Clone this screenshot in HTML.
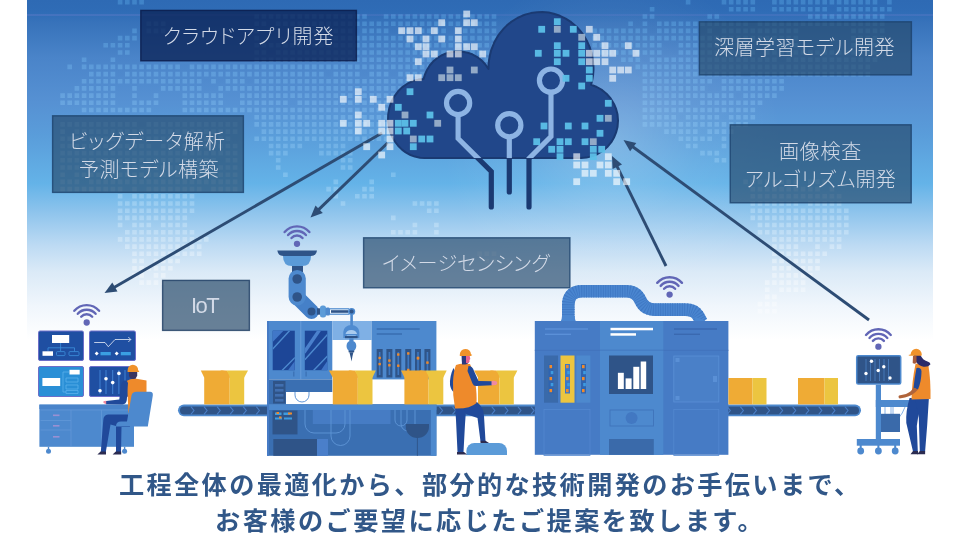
<!DOCTYPE html>
<html lang="ja">
<head>
<meta charset="utf-8">
<title>スマートファクトリー ソリューション</title>
<style>
html,body{margin:0;padding:0;background:#fff;}
#stage{position:relative;width:960px;height:540px;overflow:hidden;background:#fff;font-family:"Liberation Sans","Noto Sans CJK JP",sans-serif;}
.lb{position:absolute;will-change:transform;color:#d3dae7;line-height:28px;font-weight:300;white-space:nowrap;}
.cap{position:absolute;will-change:transform;color:#315788;font-weight:700;font-size:25.2px;line-height:32px;letter-spacing:2.35px;white-space:nowrap;}
</style>
</head>
<body>
<div id="stage">
<svg width="960" height="540" viewBox="0 0 960 540" style="position:absolute;left:0;top:0">
<defs>
<linearGradient id="bg" x1="0" y1="0" x2="0" y2="1" gradientUnits="objectBoundingBox">
<stop offset="0" stop-color="#2e6ab4"/>
<stop offset="0.035" stop-color="#2f6cb6"/>
<stop offset="0.065" stop-color="#3772ba"/>
<stop offset="0.17" stop-color="#4a84c9"/>
<stop offset="0.30" stop-color="#5691d3"/>
<stop offset="0.40" stop-color="#5a9dda"/>
<stop offset="0.54" stop-color="#64b3e8"/>
<stop offset="0.62" stop-color="#8cc3ec"/>
<stop offset="0.72" stop-color="#bcdaf3"/>
<stop offset="0.80" stop-color="#dbeaf7"/>
<stop offset="0.90" stop-color="#f0f6fc"/>
<stop offset="1" stop-color="#ffffff"/>
</linearGradient>
<clipPath id="cloudclip"><path d="M593.4,65.3 L592.7,58.4 L591.6,53.1 L589.5,46.6 L586.7,40.4 L583.2,34.6 L579.9,30.4 L576.3,26.5 L571.2,22.2 L565.7,18.6 L559.9,15.8 L553.8,13.7 L548.7,12.6 L542.3,12.0 L537.1,12.2 L530.8,13.1 L525.8,14.4 L522.1,15.8 L517.4,18.0 L510.8,22.2 L506.7,25.6 L503.9,28.4 L498.8,34.6 L496.0,39.2 L494.1,42.8 L491.1,50.4 L490.1,54.4 L489.1,59.8 L488.6,63.9 L488.5,69.0 L485.2,64.2 L481.6,60.4 L476.8,56.8 L472.3,54.3 L466.6,52.4 L461.5,51.5 L455.4,51.4 L450.3,52.2 L446.1,53.4 L441.4,55.5 L437.0,58.2 L433.1,61.6 L429.7,65.5 L427.0,69.9 L424.9,74.6 L423.6,79.0 L418.3,79.6 L412.2,81.3 L407.3,83.7 L402.0,87.4 L398.1,91.3 L394.2,96.6 L391.1,102.5 L389.3,108.0 L388.2,114.6 L388.0,120.4 L388.7,126.2 L390.1,131.8 L392.3,137.1 L395.2,142.0 L398.1,145.7 L402.0,149.6 L405.7,152.4 L410.5,155.0 L414.8,156.6 L420.0,157.7 L424.5,158.0 L581.0,158.0 L586.4,157.6 L592.6,156.1 L597.6,154.0 L603.0,150.7 L607.8,146.4 L611.3,142.2 L614.0,137.5 L616.1,132.4 L617.5,127.1 L618.0,120.7 L617.5,114.3 L616.1,109.0 L614.0,103.9 L610.7,98.5 L606.5,93.7 L602.3,90.2 L596.8,87.0 L591.1,84.8 L592.2,80.3 L593.1,74.9 L593.5,69.4 L593.4,65.3Z"/></clipPath>
</defs>

<rect x="0" y="0" width="960" height="540" fill="#fff"/>
<rect x="27" y="0" width="906" height="340" fill="url(#bg)"/>
<linearGradient id="dg" x1="0" y1="0" x2="0" y2="330" gradientUnits="userSpaceOnUse"><stop offset="0" stop-color="#6ec6ff" stop-opacity="0.27"/><stop offset="0.45" stop-color="#a8dcff" stop-opacity="0.28"/><stop offset="0.8" stop-color="#ffffff" stop-opacity="0.36"/><stop offset="1" stop-color="#ffffff" stop-opacity="0.3"/></linearGradient><radialGradient id="glow" cx="612" cy="140" r="170" gradientUnits="userSpaceOnUse"><stop offset="0" stop-color="#fff" stop-opacity="0.22"/><stop offset="0.5" stop-color="#fff" stop-opacity="0.07"/><stop offset="1" stop-color="#fff" stop-opacity="0"/></radialGradient><linearGradient id="streak" x1="27" y1="0" x2="933" y2="0" gradientUnits="userSpaceOnUse"><stop offset="0" stop-color="#8a86d8" stop-opacity="0.22"/><stop offset="0.5" stop-color="#8a86d8" stop-opacity="0.12"/><stop offset="1" stop-color="#8a86d8" stop-opacity="0.18"/></linearGradient><rect x="27" y="0" width="906" height="340" fill="url(#glow)"/><rect x="27" y="14" width="906" height="2" fill="url(#streak)"/><path d="M60.3,93.3h4.6v4.6h-4.6zM60.3,100.5h4.6v4.6h-4.6zM60.3,122.1h4.6v4.6h-4.6zM60.3,129.3h4.6v4.6h-4.6zM60.3,136.5h4.6v4.6h-4.6zM60.3,143.7h4.6v4.6h-4.6zM60.3,150.8h4.6v4.6h-4.6zM60.3,158.0h4.6v4.6h-4.6zM60.3,165.2h4.6v4.6h-4.6zM60.3,172.4h4.6v4.6h-4.6zM60.3,179.6h4.6v4.6h-4.6zM60.3,186.8h4.6v4.6h-4.6zM67.4,64.6h4.6v4.6h-4.6zM67.4,93.3h4.6v4.6h-4.6zM67.4,100.5h4.6v4.6h-4.6zM67.4,122.1h4.6v4.6h-4.6zM67.4,136.5h4.6v4.6h-4.6zM67.4,143.7h4.6v4.6h-4.6zM67.4,150.8h4.6v4.6h-4.6zM67.4,158.0h4.6v4.6h-4.6zM67.4,165.2h4.6v4.6h-4.6zM67.4,179.6h4.6v4.6h-4.6zM67.4,186.8h4.6v4.6h-4.6zM74.6,86.1h4.6v4.6h-4.6zM74.6,93.3h4.6v4.6h-4.6zM74.6,100.5h4.6v4.6h-4.6zM74.6,122.1h4.6v4.6h-4.6zM74.6,129.3h4.6v4.6h-4.6zM74.6,136.5h4.6v4.6h-4.6zM74.6,143.7h4.6v4.6h-4.6zM74.6,150.8h4.6v4.6h-4.6zM74.6,158.0h4.6v4.6h-4.6zM74.6,165.2h4.6v4.6h-4.6zM74.6,172.4h4.6v4.6h-4.6zM74.6,179.6h4.6v4.6h-4.6zM74.6,186.8h4.6v4.6h-4.6zM81.8,57.4h4.6v4.6h-4.6zM81.8,64.6h4.6v4.6h-4.6zM81.8,78.9h4.6v4.6h-4.6zM81.8,86.1h4.6v4.6h-4.6zM81.8,93.3h4.6v4.6h-4.6zM81.8,100.5h4.6v4.6h-4.6zM81.8,107.7h4.6v4.6h-4.6zM81.8,122.1h4.6v4.6h-4.6zM81.8,129.3h4.6v4.6h-4.6zM81.8,136.5h4.6v4.6h-4.6zM81.8,143.7h4.6v4.6h-4.6zM81.8,150.8h4.6v4.6h-4.6zM81.8,158.0h4.6v4.6h-4.6zM81.8,165.2h4.6v4.6h-4.6zM81.8,172.4h4.6v4.6h-4.6zM81.8,186.8h4.6v4.6h-4.6zM89.0,64.6h4.6v4.6h-4.6zM89.0,71.8h4.6v4.6h-4.6zM89.0,78.9h4.6v4.6h-4.6zM89.0,86.1h4.6v4.6h-4.6zM89.0,93.3h4.6v4.6h-4.6zM89.0,100.5h4.6v4.6h-4.6zM89.0,107.7h4.6v4.6h-4.6zM89.0,122.1h4.6v4.6h-4.6zM89.0,129.3h4.6v4.6h-4.6zM89.0,136.5h4.6v4.6h-4.6zM89.0,143.7h4.6v4.6h-4.6zM89.0,150.8h4.6v4.6h-4.6zM89.0,158.0h4.6v4.6h-4.6zM89.0,165.2h4.6v4.6h-4.6zM89.0,172.4h4.6v4.6h-4.6zM89.0,179.6h4.6v4.6h-4.6zM89.0,186.8h4.6v4.6h-4.6zM96.2,64.6h4.6v4.6h-4.6zM96.2,71.8h4.6v4.6h-4.6zM96.2,78.9h4.6v4.6h-4.6zM96.2,86.1h4.6v4.6h-4.6zM96.2,93.3h4.6v4.6h-4.6zM96.2,100.5h4.6v4.6h-4.6zM96.2,107.7h4.6v4.6h-4.6zM96.2,122.1h4.6v4.6h-4.6zM96.2,129.3h4.6v4.6h-4.6zM96.2,136.5h4.6v4.6h-4.6zM96.2,143.7h4.6v4.6h-4.6zM96.2,150.8h4.6v4.6h-4.6zM96.2,158.0h4.6v4.6h-4.6zM96.2,165.2h4.6v4.6h-4.6zM96.2,172.4h4.6v4.6h-4.6zM96.2,179.6h4.6v4.6h-4.6zM96.2,186.8h4.6v4.6h-4.6zM103.4,43.0h4.6v4.6h-4.6zM103.4,64.6h4.6v4.6h-4.6zM103.4,71.8h4.6v4.6h-4.6zM103.4,78.9h4.6v4.6h-4.6zM103.4,86.1h4.6v4.6h-4.6zM103.4,93.3h4.6v4.6h-4.6zM103.4,100.5h4.6v4.6h-4.6zM103.4,107.7h4.6v4.6h-4.6zM103.4,122.1h4.6v4.6h-4.6zM103.4,129.3h4.6v4.6h-4.6zM103.4,136.5h4.6v4.6h-4.6zM103.4,143.7h4.6v4.6h-4.6zM103.4,150.8h4.6v4.6h-4.6zM103.4,158.0h4.6v4.6h-4.6zM103.4,165.2h4.6v4.6h-4.6zM103.4,172.4h4.6v4.6h-4.6zM103.4,179.6h4.6v4.6h-4.6zM103.4,186.8h4.6v4.6h-4.6zM110.6,43.0h4.6v4.6h-4.6zM110.6,57.4h4.6v4.6h-4.6zM110.6,64.6h4.6v4.6h-4.6zM110.6,71.8h4.6v4.6h-4.6zM110.6,78.9h4.6v4.6h-4.6zM110.6,86.1h4.6v4.6h-4.6zM110.6,93.3h4.6v4.6h-4.6zM110.6,100.5h4.6v4.6h-4.6zM110.6,107.7h4.6v4.6h-4.6zM110.6,122.1h4.6v4.6h-4.6zM110.6,129.3h4.6v4.6h-4.6zM110.6,136.5h4.6v4.6h-4.6zM110.6,143.7h4.6v4.6h-4.6zM110.6,150.8h4.6v4.6h-4.6zM110.6,158.0h4.6v4.6h-4.6zM110.6,165.2h4.6v4.6h-4.6zM110.6,172.4h4.6v4.6h-4.6zM110.6,179.6h4.6v4.6h-4.6zM110.6,186.8h4.6v4.6h-4.6zM117.8,0.0h4.6v4.4h-4.6zM117.8,35.8h4.6v4.6h-4.6zM117.8,43.0h4.6v4.6h-4.6zM117.8,50.2h4.6v4.6h-4.6zM117.8,64.6h4.6v4.6h-4.6zM117.8,78.9h4.6v4.6h-4.6zM117.8,107.7h4.6v4.6h-4.6zM117.8,122.1h4.6v4.6h-4.6zM117.8,129.3h4.6v4.6h-4.6zM117.8,136.5h4.6v4.6h-4.6zM117.8,143.7h4.6v4.6h-4.6zM117.8,150.8h4.6v4.6h-4.6zM117.8,158.0h4.6v4.6h-4.6zM117.8,165.2h4.6v4.6h-4.6zM117.8,172.4h4.6v4.6h-4.6zM117.8,179.6h4.6v4.6h-4.6zM117.8,186.8h4.6v4.6h-4.6zM117.8,194.0h4.6v4.6h-4.6zM117.8,201.2h4.6v4.6h-4.6zM117.8,208.4h4.6v4.6h-4.6zM117.8,215.6h4.6v4.6h-4.6zM117.8,222.7h4.6v4.6h-4.6zM117.8,237.1h4.6v4.6h-4.6zM125.0,0.0h4.6v4.4h-4.6zM125.0,35.8h4.6v4.6h-4.6zM125.0,43.0h4.6v4.6h-4.6zM125.0,50.2h4.6v4.6h-4.6zM125.0,64.6h4.6v4.6h-4.6zM125.0,71.8h4.6v4.6h-4.6zM125.0,78.9h4.6v4.6h-4.6zM125.0,107.7h4.6v4.6h-4.6zM125.0,122.1h4.6v4.6h-4.6zM125.0,129.3h4.6v4.6h-4.6zM125.0,136.5h4.6v4.6h-4.6zM125.0,143.7h4.6v4.6h-4.6zM125.0,150.8h4.6v4.6h-4.6zM125.0,158.0h4.6v4.6h-4.6zM125.0,165.2h4.6v4.6h-4.6zM125.0,172.4h4.6v4.6h-4.6zM125.0,179.6h4.6v4.6h-4.6zM125.0,201.2h4.6v4.6h-4.6zM125.0,208.4h4.6v4.6h-4.6zM125.0,215.6h4.6v4.6h-4.6zM125.0,229.9h4.6v4.6h-4.6zM125.0,237.1h4.6v4.6h-4.6zM125.0,244.3h4.6v4.6h-4.6zM132.2,0.0h4.6v4.4h-4.6zM132.2,28.6h4.6v4.6h-4.6zM132.2,35.8h4.6v4.6h-4.6zM132.2,64.6h4.6v4.6h-4.6zM132.2,71.8h4.6v4.6h-4.6zM132.2,78.9h4.6v4.6h-4.6zM132.2,86.1h4.6v4.6h-4.6zM132.2,93.3h4.6v4.6h-4.6zM132.2,100.5h4.6v4.6h-4.6zM132.2,107.7h4.6v4.6h-4.6zM132.2,122.1h4.6v4.6h-4.6zM132.2,129.3h4.6v4.6h-4.6zM132.2,136.5h4.6v4.6h-4.6zM132.2,143.7h4.6v4.6h-4.6zM132.2,150.8h4.6v4.6h-4.6zM132.2,158.0h4.6v4.6h-4.6zM132.2,165.2h4.6v4.6h-4.6zM132.2,172.4h4.6v4.6h-4.6zM132.2,179.6h4.6v4.6h-4.6zM132.2,186.8h4.6v4.6h-4.6zM132.2,194.0h4.6v4.6h-4.6zM132.2,201.2h4.6v4.6h-4.6zM132.2,208.4h4.6v4.6h-4.6zM132.2,215.6h4.6v4.6h-4.6zM132.2,222.7h4.6v4.6h-4.6zM132.2,229.9h4.6v4.6h-4.6zM132.2,237.1h4.6v4.6h-4.6zM132.2,244.3h4.6v4.6h-4.6zM132.2,251.5h4.6v4.6h-4.6zM132.2,258.7h4.6v4.6h-4.6zM132.2,265.9h4.6v4.6h-4.6zM132.2,273.1h4.6v4.6h-4.6zM139.3,0.0h4.6v4.4h-4.6zM139.3,64.6h4.6v4.6h-4.6zM139.3,71.8h4.6v4.6h-4.6zM139.3,78.9h4.6v4.6h-4.6zM139.3,100.5h4.6v4.6h-4.6zM139.3,107.7h4.6v4.6h-4.6zM139.3,129.3h4.6v4.6h-4.6zM139.3,136.5h4.6v4.6h-4.6zM139.3,143.7h4.6v4.6h-4.6zM139.3,150.8h4.6v4.6h-4.6zM139.3,158.0h4.6v4.6h-4.6zM139.3,165.2h4.6v4.6h-4.6zM139.3,172.4h4.6v4.6h-4.6zM139.3,179.6h4.6v4.6h-4.6zM139.3,194.0h4.6v4.6h-4.6zM139.3,201.2h4.6v4.6h-4.6zM139.3,208.4h4.6v4.6h-4.6zM139.3,215.6h4.6v4.6h-4.6zM139.3,222.7h4.6v4.6h-4.6zM139.3,229.9h4.6v4.6h-4.6zM139.3,237.1h4.6v4.6h-4.6zM139.3,244.3h4.6v4.6h-4.6zM139.3,251.5h4.6v4.6h-4.6zM139.3,258.7h4.6v4.6h-4.6zM139.3,265.9h4.6v4.6h-4.6zM139.3,273.1h4.6v4.6h-4.6zM139.3,280.3h4.6v4.6h-4.6zM146.5,21.4h4.6v4.6h-4.6zM146.5,28.6h4.6v4.6h-4.6zM146.5,64.6h4.6v4.6h-4.6zM146.5,71.8h4.6v4.6h-4.6zM146.5,78.9h4.6v4.6h-4.6zM146.5,100.5h4.6v4.6h-4.6zM146.5,107.7h4.6v4.6h-4.6zM146.5,122.1h4.6v4.6h-4.6zM146.5,129.3h4.6v4.6h-4.6zM146.5,136.5h4.6v4.6h-4.6zM146.5,143.7h4.6v4.6h-4.6zM146.5,150.8h4.6v4.6h-4.6zM146.5,158.0h4.6v4.6h-4.6zM146.5,165.2h4.6v4.6h-4.6zM146.5,172.4h4.6v4.6h-4.6zM146.5,179.6h4.6v4.6h-4.6zM146.5,186.8h4.6v4.6h-4.6zM146.5,194.0h4.6v4.6h-4.6zM146.5,201.2h4.6v4.6h-4.6zM146.5,208.4h4.6v4.6h-4.6zM146.5,215.6h4.6v4.6h-4.6zM146.5,222.7h4.6v4.6h-4.6zM146.5,229.9h4.6v4.6h-4.6zM146.5,237.1h4.6v4.6h-4.6zM146.5,244.3h4.6v4.6h-4.6zM146.5,251.5h4.6v4.6h-4.6zM146.5,265.9h4.6v4.6h-4.6zM146.5,280.3h4.6v4.6h-4.6zM153.7,21.4h4.6v4.6h-4.6zM153.7,28.6h4.6v4.6h-4.6zM153.7,64.6h4.6v4.6h-4.6zM153.7,71.8h4.6v4.6h-4.6zM153.7,78.9h4.6v4.6h-4.6zM153.7,93.3h4.6v4.6h-4.6zM153.7,100.5h4.6v4.6h-4.6zM153.7,122.1h4.6v4.6h-4.6zM153.7,129.3h4.6v4.6h-4.6zM153.7,136.5h4.6v4.6h-4.6zM153.7,150.8h4.6v4.6h-4.6zM153.7,158.0h4.6v4.6h-4.6zM153.7,165.2h4.6v4.6h-4.6zM153.7,172.4h4.6v4.6h-4.6zM153.7,179.6h4.6v4.6h-4.6zM153.7,186.8h4.6v4.6h-4.6zM153.7,194.0h4.6v4.6h-4.6zM153.7,201.2h4.6v4.6h-4.6zM153.7,208.4h4.6v4.6h-4.6zM153.7,215.6h4.6v4.6h-4.6zM153.7,229.9h4.6v4.6h-4.6zM153.7,237.1h4.6v4.6h-4.6zM153.7,244.3h4.6v4.6h-4.6zM153.7,251.5h4.6v4.6h-4.6zM153.7,258.7h4.6v4.6h-4.6zM153.7,265.9h4.6v4.6h-4.6zM153.7,273.1h4.6v4.6h-4.6zM153.7,280.3h4.6v4.6h-4.6zM160.9,21.4h4.6v4.6h-4.6zM160.9,28.6h4.6v4.6h-4.6zM160.9,64.6h4.6v4.6h-4.6zM160.9,71.8h4.6v4.6h-4.6zM160.9,78.9h4.6v4.6h-4.6zM160.9,86.1h4.6v4.6h-4.6zM160.9,122.1h4.6v4.6h-4.6zM160.9,129.3h4.6v4.6h-4.6zM160.9,136.5h4.6v4.6h-4.6zM160.9,143.7h4.6v4.6h-4.6zM160.9,150.8h4.6v4.6h-4.6zM160.9,158.0h4.6v4.6h-4.6zM160.9,165.2h4.6v4.6h-4.6zM160.9,172.4h4.6v4.6h-4.6zM160.9,179.6h4.6v4.6h-4.6zM160.9,186.8h4.6v4.6h-4.6zM160.9,194.0h4.6v4.6h-4.6zM160.9,201.2h4.6v4.6h-4.6zM160.9,208.4h4.6v4.6h-4.6zM160.9,215.6h4.6v4.6h-4.6zM160.9,222.7h4.6v4.6h-4.6zM160.9,229.9h4.6v4.6h-4.6zM160.9,237.1h4.6v4.6h-4.6zM160.9,244.3h4.6v4.6h-4.6zM160.9,251.5h4.6v4.6h-4.6zM160.9,258.7h4.6v4.6h-4.6zM160.9,265.9h4.6v4.6h-4.6zM160.9,273.1h4.6v4.6h-4.6zM160.9,280.3h4.6v4.6h-4.6zM168.1,64.6h4.6v4.6h-4.6zM168.1,71.8h4.6v4.6h-4.6zM168.1,78.9h4.6v4.6h-4.6zM168.1,86.1h4.6v4.6h-4.6zM168.1,122.1h4.6v4.6h-4.6zM168.1,129.3h4.6v4.6h-4.6zM168.1,136.5h4.6v4.6h-4.6zM168.1,143.7h4.6v4.6h-4.6zM168.1,150.8h4.6v4.6h-4.6zM168.1,158.0h4.6v4.6h-4.6zM168.1,165.2h4.6v4.6h-4.6zM168.1,179.6h4.6v4.6h-4.6zM168.1,186.8h4.6v4.6h-4.6zM168.1,194.0h4.6v4.6h-4.6zM168.1,201.2h4.6v4.6h-4.6zM168.1,208.4h4.6v4.6h-4.6zM168.1,215.6h4.6v4.6h-4.6zM168.1,222.7h4.6v4.6h-4.6zM168.1,229.9h4.6v4.6h-4.6zM168.1,237.1h4.6v4.6h-4.6zM168.1,244.3h4.6v4.6h-4.6zM168.1,251.5h4.6v4.6h-4.6zM168.1,258.7h4.6v4.6h-4.6zM168.1,265.9h4.6v4.6h-4.6zM175.3,64.6h4.6v4.6h-4.6zM175.3,71.8h4.6v4.6h-4.6zM175.3,78.9h4.6v4.6h-4.6zM175.3,86.1h4.6v4.6h-4.6zM175.3,122.1h4.6v4.6h-4.6zM175.3,129.3h4.6v4.6h-4.6zM175.3,136.5h4.6v4.6h-4.6zM175.3,143.7h4.6v4.6h-4.6zM175.3,150.8h4.6v4.6h-4.6zM175.3,158.0h4.6v4.6h-4.6zM175.3,165.2h4.6v4.6h-4.6zM175.3,172.4h4.6v4.6h-4.6zM175.3,179.6h4.6v4.6h-4.6zM175.3,186.8h4.6v4.6h-4.6zM175.3,194.0h4.6v4.6h-4.6zM175.3,201.2h4.6v4.6h-4.6zM175.3,208.4h4.6v4.6h-4.6zM175.3,215.6h4.6v4.6h-4.6zM175.3,222.7h4.6v4.6h-4.6zM175.3,229.9h4.6v4.6h-4.6zM175.3,237.1h4.6v4.6h-4.6zM175.3,244.3h4.6v4.6h-4.6zM175.3,251.5h4.6v4.6h-4.6zM175.3,258.7h4.6v4.6h-4.6zM182.5,71.8h4.6v4.6h-4.6zM182.5,78.9h4.6v4.6h-4.6zM182.5,86.1h4.6v4.6h-4.6zM182.5,93.3h4.6v4.6h-4.6zM182.5,100.5h4.6v4.6h-4.6zM182.5,107.7h4.6v4.6h-4.6zM182.5,122.1h4.6v4.6h-4.6zM182.5,129.3h4.6v4.6h-4.6zM182.5,136.5h4.6v4.6h-4.6zM182.5,143.7h4.6v4.6h-4.6zM182.5,150.8h4.6v4.6h-4.6zM182.5,158.0h4.6v4.6h-4.6zM182.5,165.2h4.6v4.6h-4.6zM182.5,172.4h4.6v4.6h-4.6zM182.5,179.6h4.6v4.6h-4.6zM182.5,186.8h4.6v4.6h-4.6zM182.5,194.0h4.6v4.6h-4.6zM182.5,201.2h4.6v4.6h-4.6zM182.5,208.4h4.6v4.6h-4.6zM182.5,215.6h4.6v4.6h-4.6zM182.5,222.7h4.6v4.6h-4.6zM182.5,229.9h4.6v4.6h-4.6zM182.5,237.1h4.6v4.6h-4.6zM182.5,244.3h4.6v4.6h-4.6zM182.5,251.5h4.6v4.6h-4.6zM189.7,64.6h4.6v4.6h-4.6zM189.7,71.8h4.6v4.6h-4.6zM189.7,78.9h4.6v4.6h-4.6zM189.7,86.1h4.6v4.6h-4.6zM189.7,93.3h4.6v4.6h-4.6zM189.7,100.5h4.6v4.6h-4.6zM189.7,107.7h4.6v4.6h-4.6zM189.7,122.1h4.6v4.6h-4.6zM189.7,129.3h4.6v4.6h-4.6zM189.7,136.5h4.6v4.6h-4.6zM189.7,143.7h4.6v4.6h-4.6zM189.7,150.8h4.6v4.6h-4.6zM189.7,158.0h4.6v4.6h-4.6zM189.7,165.2h4.6v4.6h-4.6zM189.7,172.4h4.6v4.6h-4.6zM189.7,179.6h4.6v4.6h-4.6zM189.7,186.8h4.6v4.6h-4.6zM189.7,194.0h4.6v4.6h-4.6zM189.7,201.2h4.6v4.6h-4.6zM189.7,208.4h4.6v4.6h-4.6zM189.7,229.9h4.6v4.6h-4.6zM189.7,237.1h4.6v4.6h-4.6zM189.7,244.3h4.6v4.6h-4.6zM189.7,251.5h4.6v4.6h-4.6zM196.9,64.6h4.6v4.6h-4.6zM196.9,71.8h4.6v4.6h-4.6zM196.9,78.9h4.6v4.6h-4.6zM196.9,86.1h4.6v4.6h-4.6zM196.9,93.3h4.6v4.6h-4.6zM196.9,100.5h4.6v4.6h-4.6zM196.9,107.7h4.6v4.6h-4.6zM196.9,122.1h4.6v4.6h-4.6zM196.9,129.3h4.6v4.6h-4.6zM196.9,136.5h4.6v4.6h-4.6zM196.9,143.7h4.6v4.6h-4.6zM196.9,150.8h4.6v4.6h-4.6zM196.9,158.0h4.6v4.6h-4.6zM196.9,165.2h4.6v4.6h-4.6zM196.9,172.4h4.6v4.6h-4.6zM196.9,179.6h4.6v4.6h-4.6zM196.9,186.8h4.6v4.6h-4.6zM196.9,237.1h4.6v4.6h-4.6zM196.9,244.3h4.6v4.6h-4.6zM196.9,251.5h4.6v4.6h-4.6zM204.0,64.6h4.6v4.6h-4.6zM204.0,71.8h4.6v4.6h-4.6zM204.0,93.3h4.6v4.6h-4.6zM204.0,100.5h4.6v4.6h-4.6zM204.0,107.7h4.6v4.6h-4.6zM204.0,122.1h4.6v4.6h-4.6zM204.0,129.3h4.6v4.6h-4.6zM204.0,136.5h4.6v4.6h-4.6zM204.0,143.7h4.6v4.6h-4.6zM204.0,150.8h4.6v4.6h-4.6zM204.0,158.0h4.6v4.6h-4.6zM204.0,165.2h4.6v4.6h-4.6zM204.0,172.4h4.6v4.6h-4.6zM204.0,179.6h4.6v4.6h-4.6zM204.0,237.1h4.6v4.6h-4.6zM211.2,64.6h4.6v4.6h-4.6zM211.2,71.8h4.6v4.6h-4.6zM211.2,78.9h4.6v4.6h-4.6zM211.2,93.3h4.6v4.6h-4.6zM211.2,100.5h4.6v4.6h-4.6zM211.2,107.7h4.6v4.6h-4.6zM211.2,122.1h4.6v4.6h-4.6zM211.2,129.3h4.6v4.6h-4.6zM211.2,136.5h4.6v4.6h-4.6zM211.2,143.7h4.6v4.6h-4.6zM211.2,150.8h4.6v4.6h-4.6zM211.2,158.0h4.6v4.6h-4.6zM211.2,165.2h4.6v4.6h-4.6zM211.2,172.4h4.6v4.6h-4.6zM211.2,179.6h4.6v4.6h-4.6zM211.2,186.8h4.6v4.6h-4.6zM218.4,64.6h4.6v4.6h-4.6zM218.4,71.8h4.6v4.6h-4.6zM218.4,86.1h4.6v4.6h-4.6zM218.4,93.3h4.6v4.6h-4.6zM218.4,100.5h4.6v4.6h-4.6zM218.4,107.7h4.6v4.6h-4.6zM218.4,122.1h4.6v4.6h-4.6zM218.4,129.3h4.6v4.6h-4.6zM218.4,136.5h4.6v4.6h-4.6zM218.4,143.7h4.6v4.6h-4.6zM218.4,150.8h4.6v4.6h-4.6zM218.4,165.2h4.6v4.6h-4.6zM218.4,172.4h4.6v4.6h-4.6zM218.4,179.6h4.6v4.6h-4.6zM218.4,186.8h4.6v4.6h-4.6zM225.6,64.6h4.6v4.6h-4.6zM225.6,71.8h4.6v4.6h-4.6zM225.6,78.9h4.6v4.6h-4.6zM225.6,86.1h4.6v4.6h-4.6zM225.6,107.7h4.6v4.6h-4.6zM225.6,122.1h4.6v4.6h-4.6zM225.6,129.3h4.6v4.6h-4.6zM225.6,136.5h4.6v4.6h-4.6zM225.6,143.7h4.6v4.6h-4.6zM225.6,150.8h4.6v4.6h-4.6zM225.6,158.0h4.6v4.6h-4.6zM225.6,165.2h4.6v4.6h-4.6zM225.6,172.4h4.6v4.6h-4.6zM225.6,179.6h4.6v4.6h-4.6zM225.6,186.8h4.6v4.6h-4.6zM232.8,64.6h4.6v4.6h-4.6zM232.8,71.8h4.6v4.6h-4.6zM232.8,78.9h4.6v4.6h-4.6zM232.8,86.1h4.6v4.6h-4.6zM232.8,107.7h4.6v4.6h-4.6zM232.8,122.1h4.6v4.6h-4.6zM232.8,129.3h4.6v4.6h-4.6zM232.8,143.7h4.6v4.6h-4.6zM232.8,150.8h4.6v4.6h-4.6zM232.8,158.0h4.6v4.6h-4.6zM232.8,165.2h4.6v4.6h-4.6zM232.8,172.4h4.6v4.6h-4.6zM232.8,179.6h4.6v4.6h-4.6zM232.8,186.8h4.6v4.6h-4.6zM240.0,64.6h4.6v4.6h-4.6zM240.0,71.8h4.6v4.6h-4.6zM240.0,78.9h4.6v4.6h-4.6zM240.0,86.1h4.6v4.6h-4.6zM240.0,93.3h4.6v4.6h-4.6zM240.0,100.5h4.6v4.6h-4.6zM240.0,107.7h4.6v4.6h-4.6zM247.2,64.6h4.6v4.6h-4.6zM247.2,71.8h4.6v4.6h-4.6zM247.2,86.1h4.6v4.6h-4.6zM247.2,93.3h4.6v4.6h-4.6zM247.2,100.5h4.6v4.6h-4.6zM247.2,107.7h4.6v4.6h-4.6zM254.4,14.2h4.6v4.6h-4.6zM254.4,21.4h4.6v4.6h-4.6zM254.4,28.6h4.6v4.6h-4.6zM254.4,35.8h4.6v4.6h-4.6zM254.4,43.0h4.6v4.6h-4.6zM254.4,50.2h4.6v4.6h-4.6zM254.4,57.4h4.6v4.6h-4.6zM254.4,64.6h4.6v4.6h-4.6zM254.4,71.8h4.6v4.6h-4.6zM254.4,78.9h4.6v4.6h-4.6zM254.4,86.1h4.6v4.6h-4.6zM254.4,93.3h4.6v4.6h-4.6zM254.4,100.5h4.6v4.6h-4.6zM254.4,107.7h4.6v4.6h-4.6zM254.4,114.9h4.6v4.6h-4.6zM254.4,122.1h4.6v4.6h-4.6zM254.4,136.5h4.6v4.6h-4.6zM261.6,14.2h4.6v4.6h-4.6zM261.6,21.4h4.6v4.6h-4.6zM261.6,43.0h4.6v4.6h-4.6zM261.6,50.2h4.6v4.6h-4.6zM261.6,57.4h4.6v4.6h-4.6zM261.6,64.6h4.6v4.6h-4.6zM261.6,71.8h4.6v4.6h-4.6zM261.6,78.9h4.6v4.6h-4.6zM261.6,86.1h4.6v4.6h-4.6zM261.6,93.3h4.6v4.6h-4.6zM261.6,100.5h4.6v4.6h-4.6zM261.6,107.7h4.6v4.6h-4.6zM261.6,114.9h4.6v4.6h-4.6zM261.6,122.1h4.6v4.6h-4.6zM261.6,129.3h4.6v4.6h-4.6zM261.6,136.5h4.6v4.6h-4.6zM268.8,14.2h4.6v4.6h-4.6zM268.8,43.0h4.6v4.6h-4.6zM268.8,57.4h4.6v4.6h-4.6zM268.8,64.6h4.6v4.6h-4.6zM268.8,71.8h4.6v4.6h-4.6zM268.8,78.9h4.6v4.6h-4.6zM268.8,86.1h4.6v4.6h-4.6zM268.8,93.3h4.6v4.6h-4.6zM268.8,100.5h4.6v4.6h-4.6zM268.8,107.7h4.6v4.6h-4.6zM268.8,114.9h4.6v4.6h-4.6zM268.8,122.1h4.6v4.6h-4.6zM268.8,129.3h4.6v4.6h-4.6zM268.8,136.5h4.6v4.6h-4.6zM268.8,143.7h4.6v4.6h-4.6zM268.8,150.8h4.6v4.6h-4.6zM275.9,14.2h4.6v4.6h-4.6zM275.9,21.4h4.6v4.6h-4.6zM275.9,43.0h4.6v4.6h-4.6zM275.9,50.2h4.6v4.6h-4.6zM275.9,57.4h4.6v4.6h-4.6zM275.9,64.6h4.6v4.6h-4.6zM275.9,71.8h4.6v4.6h-4.6zM275.9,78.9h4.6v4.6h-4.6zM275.9,86.1h4.6v4.6h-4.6zM275.9,93.3h4.6v4.6h-4.6zM275.9,100.5h4.6v4.6h-4.6zM275.9,107.7h4.6v4.6h-4.6zM275.9,114.9h4.6v4.6h-4.6zM275.9,122.1h4.6v4.6h-4.6zM275.9,129.3h4.6v4.6h-4.6zM275.9,136.5h4.6v4.6h-4.6zM275.9,143.7h4.6v4.6h-4.6zM275.9,150.8h4.6v4.6h-4.6zM275.9,158.0h4.6v4.6h-4.6zM275.9,165.2h4.6v4.6h-4.6zM283.1,14.2h4.6v4.6h-4.6zM283.1,21.4h4.6v4.6h-4.6zM283.1,43.0h4.6v4.6h-4.6zM283.1,50.2h4.6v4.6h-4.6zM283.1,57.4h4.6v4.6h-4.6zM283.1,64.6h4.6v4.6h-4.6zM283.1,71.8h4.6v4.6h-4.6zM283.1,78.9h4.6v4.6h-4.6zM283.1,86.1h4.6v4.6h-4.6zM283.1,93.3h4.6v4.6h-4.6zM283.1,100.5h4.6v4.6h-4.6zM283.1,107.7h4.6v4.6h-4.6zM283.1,114.9h4.6v4.6h-4.6zM283.1,122.1h4.6v4.6h-4.6zM283.1,129.3h4.6v4.6h-4.6zM283.1,136.5h4.6v4.6h-4.6zM283.1,143.7h4.6v4.6h-4.6zM283.1,150.8h4.6v4.6h-4.6zM283.1,172.4h4.6v4.6h-4.6zM290.3,14.2h4.6v4.6h-4.6zM290.3,21.4h4.6v4.6h-4.6zM290.3,28.6h4.6v4.6h-4.6zM290.3,35.8h4.6v4.6h-4.6zM290.3,43.0h4.6v4.6h-4.6zM290.3,50.2h4.6v4.6h-4.6zM290.3,57.4h4.6v4.6h-4.6zM290.3,64.6h4.6v4.6h-4.6zM290.3,71.8h4.6v4.6h-4.6zM290.3,78.9h4.6v4.6h-4.6zM290.3,86.1h4.6v4.6h-4.6zM290.3,93.3h4.6v4.6h-4.6zM290.3,107.7h4.6v4.6h-4.6zM290.3,114.9h4.6v4.6h-4.6zM290.3,122.1h4.6v4.6h-4.6zM290.3,129.3h4.6v4.6h-4.6zM290.3,136.5h4.6v4.6h-4.6zM290.3,143.7h4.6v4.6h-4.6zM297.5,14.2h4.6v4.6h-4.6zM297.5,21.4h4.6v4.6h-4.6zM297.5,28.6h4.6v4.6h-4.6zM297.5,35.8h4.6v4.6h-4.6zM297.5,43.0h4.6v4.6h-4.6zM297.5,50.2h4.6v4.6h-4.6zM297.5,57.4h4.6v4.6h-4.6zM297.5,64.6h4.6v4.6h-4.6zM297.5,71.8h4.6v4.6h-4.6zM297.5,78.9h4.6v4.6h-4.6zM297.5,86.1h4.6v4.6h-4.6zM297.5,93.3h4.6v4.6h-4.6zM297.5,100.5h4.6v4.6h-4.6zM297.5,107.7h4.6v4.6h-4.6zM297.5,114.9h4.6v4.6h-4.6zM297.5,122.1h4.6v4.6h-4.6zM297.5,129.3h4.6v4.6h-4.6zM297.5,136.5h4.6v4.6h-4.6zM297.5,143.7h4.6v4.6h-4.6zM304.7,14.2h4.6v4.6h-4.6zM304.7,21.4h4.6v4.6h-4.6zM304.7,28.6h4.6v4.6h-4.6zM304.7,35.8h4.6v4.6h-4.6zM304.7,43.0h4.6v4.6h-4.6zM304.7,50.2h4.6v4.6h-4.6zM304.7,57.4h4.6v4.6h-4.6zM304.7,64.6h4.6v4.6h-4.6zM304.7,71.8h4.6v4.6h-4.6zM304.7,78.9h4.6v4.6h-4.6zM304.7,86.1h4.6v4.6h-4.6zM304.7,93.3h4.6v4.6h-4.6zM304.7,100.5h4.6v4.6h-4.6zM304.7,107.7h4.6v4.6h-4.6zM304.7,114.9h4.6v4.6h-4.6zM304.7,122.1h4.6v4.6h-4.6zM304.7,129.3h4.6v4.6h-4.6zM304.7,136.5h4.6v4.6h-4.6zM311.9,14.2h4.6v4.6h-4.6zM311.9,21.4h4.6v4.6h-4.6zM311.9,28.6h4.6v4.6h-4.6zM311.9,35.8h4.6v4.6h-4.6zM311.9,43.0h4.6v4.6h-4.6zM311.9,50.2h4.6v4.6h-4.6zM311.9,57.4h4.6v4.6h-4.6zM311.9,64.6h4.6v4.6h-4.6zM311.9,71.8h4.6v4.6h-4.6zM311.9,78.9h4.6v4.6h-4.6zM311.9,86.1h4.6v4.6h-4.6zM311.9,93.3h4.6v4.6h-4.6zM311.9,100.5h4.6v4.6h-4.6zM311.9,107.7h4.6v4.6h-4.6zM311.9,114.9h4.6v4.6h-4.6zM311.9,122.1h4.6v4.6h-4.6zM311.9,129.3h4.6v4.6h-4.6zM311.9,136.5h4.6v4.6h-4.6zM319.1,14.2h4.6v4.6h-4.6zM319.1,21.4h4.6v4.6h-4.6zM319.1,28.6h4.6v4.6h-4.6zM319.1,35.8h4.6v4.6h-4.6zM319.1,43.0h4.6v4.6h-4.6zM319.1,50.2h4.6v4.6h-4.6zM319.1,57.4h4.6v4.6h-4.6zM319.1,64.6h4.6v4.6h-4.6zM319.1,71.8h4.6v4.6h-4.6zM319.1,78.9h4.6v4.6h-4.6zM319.1,86.1h4.6v4.6h-4.6zM319.1,93.3h4.6v4.6h-4.6zM319.1,100.5h4.6v4.6h-4.6zM319.1,107.7h4.6v4.6h-4.6zM319.1,114.9h4.6v4.6h-4.6zM319.1,122.1h4.6v4.6h-4.6zM319.1,129.3h4.6v4.6h-4.6zM319.1,136.5h4.6v4.6h-4.6zM319.1,143.7h4.6v4.6h-4.6zM319.1,150.8h4.6v4.6h-4.6zM326.3,14.2h4.6v4.6h-4.6zM326.3,21.4h4.6v4.6h-4.6zM326.3,28.6h4.6v4.6h-4.6zM326.3,35.8h4.6v4.6h-4.6zM326.3,43.0h4.6v4.6h-4.6zM326.3,50.2h4.6v4.6h-4.6zM326.3,57.4h4.6v4.6h-4.6zM326.3,64.6h4.6v4.6h-4.6zM326.3,78.9h4.6v4.6h-4.6zM326.3,86.1h4.6v4.6h-4.6zM326.3,93.3h4.6v4.6h-4.6zM326.3,100.5h4.6v4.6h-4.6zM326.3,107.7h4.6v4.6h-4.6zM326.3,114.9h4.6v4.6h-4.6zM326.3,122.1h4.6v4.6h-4.6zM326.3,129.3h4.6v4.6h-4.6zM326.3,136.5h4.6v4.6h-4.6zM326.3,143.7h4.6v4.6h-4.6zM326.3,150.8h4.6v4.6h-4.6zM326.3,186.8h4.6v4.6h-4.6zM333.5,14.2h4.6v4.6h-4.6zM333.5,21.4h4.6v4.6h-4.6zM333.5,28.6h4.6v4.6h-4.6zM333.5,35.8h4.6v4.6h-4.6zM333.5,43.0h4.6v4.6h-4.6zM333.5,50.2h4.6v4.6h-4.6zM333.5,57.4h4.6v4.6h-4.6zM333.5,64.6h4.6v4.6h-4.6zM333.5,71.8h4.6v4.6h-4.6zM333.5,78.9h4.6v4.6h-4.6zM333.5,86.1h4.6v4.6h-4.6zM333.5,93.3h4.6v4.6h-4.6zM333.5,100.5h4.6v4.6h-4.6zM333.5,107.7h4.6v4.6h-4.6zM333.5,114.9h4.6v4.6h-4.6zM333.5,122.1h4.6v4.6h-4.6zM333.5,129.3h4.6v4.6h-4.6zM333.5,136.5h4.6v4.6h-4.6zM333.5,143.7h4.6v4.6h-4.6zM333.5,150.8h4.6v4.6h-4.6zM333.5,179.6h4.6v4.6h-4.6zM333.5,186.8h4.6v4.6h-4.6zM333.5,194.0h4.6v4.6h-4.6zM340.7,14.2h4.6v4.6h-4.6zM340.7,21.4h4.6v4.6h-4.6zM340.7,28.6h4.6v4.6h-4.6zM340.7,35.8h4.6v4.6h-4.6zM340.7,43.0h4.6v4.6h-4.6zM340.7,50.2h4.6v4.6h-4.6zM340.7,57.4h4.6v4.6h-4.6zM340.7,64.6h4.6v4.6h-4.6zM340.7,71.8h4.6v4.6h-4.6zM340.7,78.9h4.6v4.6h-4.6zM340.7,86.1h4.6v4.6h-4.6zM340.7,93.3h4.6v4.6h-4.6zM340.7,100.5h4.6v4.6h-4.6zM340.7,107.7h4.6v4.6h-4.6zM340.7,114.9h4.6v4.6h-4.6zM340.7,122.1h4.6v4.6h-4.6zM340.7,129.3h4.6v4.6h-4.6zM340.7,136.5h4.6v4.6h-4.6zM340.7,143.7h4.6v4.6h-4.6zM340.7,150.8h4.6v4.6h-4.6zM340.7,158.0h4.6v4.6h-4.6zM340.7,165.2h4.6v4.6h-4.6zM340.7,201.2h4.6v4.6h-4.6zM347.9,14.2h4.6v4.6h-4.6zM347.9,21.4h4.6v4.6h-4.6zM347.9,28.6h4.6v4.6h-4.6zM347.9,35.8h4.6v4.6h-4.6zM347.9,43.0h4.6v4.6h-4.6zM347.9,50.2h4.6v4.6h-4.6zM347.9,57.4h4.6v4.6h-4.6zM347.9,64.6h4.6v4.6h-4.6zM347.9,71.8h4.6v4.6h-4.6zM347.9,78.9h4.6v4.6h-4.6zM347.9,86.1h4.6v4.6h-4.6zM347.9,93.3h4.6v4.6h-4.6zM347.9,100.5h4.6v4.6h-4.6zM347.9,107.7h4.6v4.6h-4.6zM347.9,114.9h4.6v4.6h-4.6zM347.9,122.1h4.6v4.6h-4.6zM347.9,129.3h4.6v4.6h-4.6zM347.9,136.5h4.6v4.6h-4.6zM347.9,150.8h4.6v4.6h-4.6zM347.9,158.0h4.6v4.6h-4.6zM347.9,165.2h4.6v4.6h-4.6zM355.0,14.2h4.6v4.6h-4.6zM355.0,21.4h4.6v4.6h-4.6zM355.0,35.8h4.6v4.6h-4.6zM355.0,43.0h4.6v4.6h-4.6zM355.0,50.2h4.6v4.6h-4.6zM355.0,57.4h4.6v4.6h-4.6zM355.0,64.6h4.6v4.6h-4.6zM355.0,71.8h4.6v4.6h-4.6zM355.0,78.9h4.6v4.6h-4.6zM355.0,86.1h4.6v4.6h-4.6zM355.0,93.3h4.6v4.6h-4.6zM355.0,100.5h4.6v4.6h-4.6zM355.0,107.7h4.6v4.6h-4.6zM355.0,114.9h4.6v4.6h-4.6zM355.0,122.1h4.6v4.6h-4.6zM355.0,129.3h4.6v4.6h-4.6zM355.0,136.5h4.6v4.6h-4.6zM355.0,194.0h4.6v4.6h-4.6zM362.2,14.2h4.6v4.6h-4.6zM362.2,21.4h4.6v4.6h-4.6zM362.2,28.6h4.6v4.6h-4.6zM362.2,35.8h4.6v4.6h-4.6zM362.2,43.0h4.6v4.6h-4.6zM362.2,50.2h4.6v4.6h-4.6zM362.2,57.4h4.6v4.6h-4.6zM362.2,64.6h4.6v4.6h-4.6zM362.2,78.9h4.6v4.6h-4.6zM362.2,86.1h4.6v4.6h-4.6zM362.2,93.3h4.6v4.6h-4.6zM362.2,100.5h4.6v4.6h-4.6zM362.2,107.7h4.6v4.6h-4.6zM362.2,114.9h4.6v4.6h-4.6zM362.2,122.1h4.6v4.6h-4.6zM362.2,129.3h4.6v4.6h-4.6zM362.2,136.5h4.6v4.6h-4.6zM362.2,186.8h4.6v4.6h-4.6zM362.2,194.0h4.6v4.6h-4.6zM369.4,21.4h4.6v4.6h-4.6zM369.4,28.6h4.6v4.6h-4.6zM369.4,35.8h4.6v4.6h-4.6zM369.4,43.0h4.6v4.6h-4.6zM369.4,50.2h4.6v4.6h-4.6zM369.4,57.4h4.6v4.6h-4.6zM369.4,64.6h4.6v4.6h-4.6zM369.4,71.8h4.6v4.6h-4.6zM369.4,78.9h4.6v4.6h-4.6zM369.4,86.1h4.6v4.6h-4.6zM369.4,93.3h4.6v4.6h-4.6zM369.4,100.5h4.6v4.6h-4.6zM369.4,107.7h4.6v4.6h-4.6zM369.4,114.9h4.6v4.6h-4.6zM369.4,122.1h4.6v4.6h-4.6zM369.4,129.3h4.6v4.6h-4.6zM369.4,136.5h4.6v4.6h-4.6zM369.4,179.6h4.6v4.6h-4.6zM369.4,186.8h4.6v4.6h-4.6zM369.4,194.0h4.6v4.6h-4.6zM376.6,21.4h4.6v4.6h-4.6zM376.6,28.6h4.6v4.6h-4.6zM376.6,35.8h4.6v4.6h-4.6zM376.6,43.0h4.6v4.6h-4.6zM376.6,50.2h4.6v4.6h-4.6zM376.6,57.4h4.6v4.6h-4.6zM376.6,64.6h4.6v4.6h-4.6zM376.6,71.8h4.6v4.6h-4.6zM376.6,78.9h4.6v4.6h-4.6zM376.6,86.1h4.6v4.6h-4.6zM376.6,93.3h4.6v4.6h-4.6zM376.6,100.5h4.6v4.6h-4.6zM376.6,107.7h4.6v4.6h-4.6zM376.6,114.9h4.6v4.6h-4.6zM376.6,122.1h4.6v4.6h-4.6zM376.6,129.3h4.6v4.6h-4.6zM376.6,136.5h4.6v4.6h-4.6zM383.8,14.2h4.6v4.6h-4.6zM383.8,21.4h4.6v4.6h-4.6zM383.8,28.6h4.6v4.6h-4.6zM383.8,35.8h4.6v4.6h-4.6zM383.8,43.0h4.6v4.6h-4.6zM383.8,50.2h4.6v4.6h-4.6zM383.8,57.4h4.6v4.6h-4.6zM383.8,64.6h4.6v4.6h-4.6zM383.8,71.8h4.6v4.6h-4.6zM383.8,78.9h4.6v4.6h-4.6zM383.8,86.1h4.6v4.6h-4.6zM383.8,93.3h4.6v4.6h-4.6zM383.8,100.5h4.6v4.6h-4.6zM383.8,107.7h4.6v4.6h-4.6zM383.8,114.9h4.6v4.6h-4.6zM383.8,122.1h4.6v4.6h-4.6zM383.8,129.3h4.6v4.6h-4.6zM383.8,136.5h4.6v4.6h-4.6zM391.0,14.2h4.6v4.6h-4.6zM391.0,21.4h4.6v4.6h-4.6zM391.0,35.8h4.6v4.6h-4.6zM391.0,43.0h4.6v4.6h-4.6zM391.0,50.2h4.6v4.6h-4.6zM391.0,57.4h4.6v4.6h-4.6zM391.0,64.6h4.6v4.6h-4.6zM391.0,78.9h4.6v4.6h-4.6zM391.0,86.1h4.6v4.6h-4.6zM391.0,93.3h4.6v4.6h-4.6zM391.0,100.5h4.6v4.6h-4.6zM391.0,107.7h4.6v4.6h-4.6zM391.0,114.9h4.6v4.6h-4.6zM391.0,122.1h4.6v4.6h-4.6zM391.0,129.3h4.6v4.6h-4.6zM391.0,172.4h4.6v4.6h-4.6zM391.0,215.6h4.6v4.6h-4.6zM391.0,229.9h4.6v4.6h-4.6zM398.2,14.2h4.6v4.6h-4.6zM398.2,21.4h4.6v4.6h-4.6zM398.2,28.6h4.6v4.6h-4.6zM398.2,35.8h4.6v4.6h-4.6zM398.2,43.0h4.6v4.6h-4.6zM398.2,50.2h4.6v4.6h-4.6zM398.2,57.4h4.6v4.6h-4.6zM398.2,64.6h4.6v4.6h-4.6zM398.2,71.8h4.6v4.6h-4.6zM398.2,78.9h4.6v4.6h-4.6zM398.2,86.1h4.6v4.6h-4.6zM398.2,93.3h4.6v4.6h-4.6zM398.2,100.5h4.6v4.6h-4.6zM398.2,107.7h4.6v4.6h-4.6zM398.2,114.9h4.6v4.6h-4.6zM398.2,122.1h4.6v4.6h-4.6zM398.2,129.3h4.6v4.6h-4.6zM398.2,229.9h4.6v4.6h-4.6zM405.4,14.2h4.6v4.6h-4.6zM405.4,21.4h4.6v4.6h-4.6zM405.4,28.6h4.6v4.6h-4.6zM405.4,35.8h4.6v4.6h-4.6zM405.4,43.0h4.6v4.6h-4.6zM405.4,50.2h4.6v4.6h-4.6zM405.4,57.4h4.6v4.6h-4.6zM405.4,64.6h4.6v4.6h-4.6zM405.4,71.8h4.6v4.6h-4.6zM405.4,78.9h4.6v4.6h-4.6zM405.4,86.1h4.6v4.6h-4.6zM405.4,93.3h4.6v4.6h-4.6zM405.4,100.5h4.6v4.6h-4.6zM405.4,107.7h4.6v4.6h-4.6zM405.4,114.9h4.6v4.6h-4.6zM405.4,122.1h4.6v4.6h-4.6zM405.4,129.3h4.6v4.6h-4.6zM405.4,229.9h4.6v4.6h-4.6zM412.6,14.2h4.6v4.6h-4.6zM412.6,21.4h4.6v4.6h-4.6zM412.6,35.8h4.6v4.6h-4.6zM412.6,43.0h4.6v4.6h-4.6zM412.6,50.2h4.6v4.6h-4.6zM412.6,57.4h4.6v4.6h-4.6zM412.6,64.6h4.6v4.6h-4.6zM412.6,71.8h4.6v4.6h-4.6zM412.6,86.1h4.6v4.6h-4.6zM412.6,93.3h4.6v4.6h-4.6zM412.6,100.5h4.6v4.6h-4.6zM412.6,107.7h4.6v4.6h-4.6zM412.6,114.9h4.6v4.6h-4.6zM412.6,122.1h4.6v4.6h-4.6zM412.6,129.3h4.6v4.6h-4.6zM412.6,201.2h4.6v4.6h-4.6zM412.6,222.7h4.6v4.6h-4.6zM412.6,229.9h4.6v4.6h-4.6zM419.8,14.2h4.6v4.6h-4.6zM419.8,21.4h4.6v4.6h-4.6zM419.8,28.6h4.6v4.6h-4.6zM419.8,35.8h4.6v4.6h-4.6zM419.8,43.0h4.6v4.6h-4.6zM419.8,50.2h4.6v4.6h-4.6zM419.8,57.4h4.6v4.6h-4.6zM419.8,64.6h4.6v4.6h-4.6zM419.8,71.8h4.6v4.6h-4.6zM419.8,78.9h4.6v4.6h-4.6zM419.8,86.1h4.6v4.6h-4.6zM419.8,93.3h4.6v4.6h-4.6zM419.8,100.5h4.6v4.6h-4.6zM419.8,107.7h4.6v4.6h-4.6zM419.8,114.9h4.6v4.6h-4.6zM419.8,122.1h4.6v4.6h-4.6zM419.8,201.2h4.6v4.6h-4.6zM426.9,14.2h4.6v4.6h-4.6zM426.9,21.4h4.6v4.6h-4.6zM426.9,28.6h4.6v4.6h-4.6zM426.9,35.8h4.6v4.6h-4.6zM426.9,43.0h4.6v4.6h-4.6zM426.9,50.2h4.6v4.6h-4.6zM426.9,57.4h4.6v4.6h-4.6zM426.9,64.6h4.6v4.6h-4.6zM426.9,71.8h4.6v4.6h-4.6zM426.9,78.9h4.6v4.6h-4.6zM426.9,86.1h4.6v4.6h-4.6zM426.9,93.3h4.6v4.6h-4.6zM426.9,100.5h4.6v4.6h-4.6zM426.9,201.2h4.6v4.6h-4.6zM426.9,208.4h4.6v4.6h-4.6zM434.1,14.2h4.6v4.6h-4.6zM434.1,21.4h4.6v4.6h-4.6zM434.1,28.6h4.6v4.6h-4.6zM434.1,35.8h4.6v4.6h-4.6zM434.1,43.0h4.6v4.6h-4.6zM434.1,50.2h4.6v4.6h-4.6zM434.1,57.4h4.6v4.6h-4.6zM434.1,64.6h4.6v4.6h-4.6zM434.1,71.8h4.6v4.6h-4.6zM434.1,78.9h4.6v4.6h-4.6zM434.1,201.2h4.6v4.6h-4.6zM434.1,208.4h4.6v4.6h-4.6zM434.1,222.7h4.6v4.6h-4.6zM434.1,229.9h4.6v4.6h-4.6zM441.3,14.2h4.6v4.6h-4.6zM441.3,21.4h4.6v4.6h-4.6zM441.3,28.6h4.6v4.6h-4.6zM441.3,35.8h4.6v4.6h-4.6zM441.3,43.0h4.6v4.6h-4.6zM441.3,50.2h4.6v4.6h-4.6zM441.3,57.4h4.6v4.6h-4.6zM448.5,14.2h4.6v4.6h-4.6zM448.5,21.4h4.6v4.6h-4.6zM448.5,35.8h4.6v4.6h-4.6zM448.5,43.0h4.6v4.6h-4.6zM448.5,50.2h4.6v4.6h-4.6zM448.5,57.4h4.6v4.6h-4.6zM455.7,14.2h4.6v4.6h-4.6zM455.7,21.4h4.6v4.6h-4.6zM455.7,28.6h4.6v4.6h-4.6zM455.7,35.8h4.6v4.6h-4.6zM455.7,43.0h4.6v4.6h-4.6zM455.7,50.2h4.6v4.6h-4.6zM462.9,14.2h4.6v4.6h-4.6zM462.9,21.4h4.6v4.6h-4.6zM462.9,28.6h4.6v4.6h-4.6zM462.9,35.8h4.6v4.6h-4.6zM462.9,43.0h4.6v4.6h-4.6zM462.9,50.2h4.6v4.6h-4.6zM462.9,57.4h4.6v4.6h-4.6zM470.1,14.2h4.6v4.6h-4.6zM470.1,21.4h4.6v4.6h-4.6zM470.1,28.6h4.6v4.6h-4.6zM470.1,35.8h4.6v4.6h-4.6zM470.1,50.2h4.6v4.6h-4.6zM470.1,57.4h4.6v4.6h-4.6zM477.3,14.2h4.6v4.6h-4.6zM477.3,21.4h4.6v4.6h-4.6zM477.3,28.6h4.6v4.6h-4.6zM477.3,35.8h4.6v4.6h-4.6zM477.3,43.0h4.6v4.6h-4.6zM477.3,50.2h4.6v4.6h-4.6zM477.3,57.4h4.6v4.6h-4.6zM477.3,251.5h4.6v4.6h-4.6zM484.5,14.2h4.6v4.6h-4.6zM484.5,21.4h4.6v4.6h-4.6zM484.5,28.6h4.6v4.6h-4.6zM484.5,35.8h4.6v4.6h-4.6zM484.5,43.0h4.6v4.6h-4.6zM484.5,50.2h4.6v4.6h-4.6zM484.5,57.4h4.6v4.6h-4.6zM484.5,251.5h4.6v4.6h-4.6zM484.5,258.7h4.6v4.6h-4.6zM491.7,14.2h4.6v4.6h-4.6zM491.7,21.4h4.6v4.6h-4.6zM491.7,28.6h4.6v4.6h-4.6zM491.7,35.8h4.6v4.6h-4.6zM491.7,43.0h4.6v4.6h-4.6zM491.7,50.2h4.6v4.6h-4.6zM491.7,57.4h4.6v4.6h-4.6zM491.7,251.5h4.6v4.6h-4.6zM491.7,258.7h4.6v4.6h-4.6zM592.3,28.6h4.6v4.6h-4.6zM592.3,35.8h4.6v4.6h-4.6zM592.3,43.0h4.6v4.6h-4.6zM599.5,28.6h4.6v4.6h-4.6zM599.5,35.8h4.6v4.6h-4.6zM599.5,43.0h4.6v4.6h-4.6zM599.5,50.2h4.6v4.6h-4.6zM606.7,28.6h4.6v4.6h-4.6zM606.7,35.8h4.6v4.6h-4.6zM606.7,43.0h4.6v4.6h-4.6zM606.7,50.2h4.6v4.6h-4.6zM613.9,28.6h4.6v4.6h-4.6zM613.9,35.8h4.6v4.6h-4.6zM613.9,43.0h4.6v4.6h-4.6zM613.9,50.2h4.6v4.6h-4.6zM621.1,28.6h4.6v4.6h-4.6zM621.1,35.8h4.6v4.6h-4.6zM621.1,43.0h4.6v4.6h-4.6zM621.1,50.2h4.6v4.6h-4.6zM621.1,57.4h4.6v4.6h-4.6zM628.3,21.4h4.6v4.6h-4.6zM628.3,28.6h4.6v4.6h-4.6zM628.3,35.8h4.6v4.6h-4.6zM628.3,43.0h4.6v4.6h-4.6zM628.3,50.2h4.6v4.6h-4.6zM628.3,57.4h4.6v4.6h-4.6zM635.5,28.6h4.6v4.6h-4.6zM635.5,35.8h4.6v4.6h-4.6zM635.5,43.0h4.6v4.6h-4.6zM635.5,50.2h4.6v4.6h-4.6zM635.5,57.4h4.6v4.6h-4.6zM635.5,64.6h4.6v4.6h-4.6zM642.6,14.2h4.6v4.6h-4.6zM642.6,21.4h4.6v4.6h-4.6zM642.6,28.6h4.6v4.6h-4.6zM642.6,35.8h4.6v4.6h-4.6zM642.6,43.0h4.6v4.6h-4.6zM642.6,50.2h4.6v4.6h-4.6zM642.6,64.6h4.6v4.6h-4.6zM642.6,71.8h4.6v4.6h-4.6zM642.6,78.9h4.6v4.6h-4.6zM642.6,86.1h4.6v4.6h-4.6zM642.6,93.3h4.6v4.6h-4.6zM642.6,100.5h4.6v4.6h-4.6zM642.6,107.7h4.6v4.6h-4.6zM642.6,114.9h4.6v4.6h-4.6zM642.6,122.1h4.6v4.6h-4.6zM649.8,7.0h4.6v4.6h-4.6zM649.8,14.2h4.6v4.6h-4.6zM649.8,35.8h4.6v4.6h-4.6zM649.8,43.0h4.6v4.6h-4.6zM649.8,50.2h4.6v4.6h-4.6zM649.8,57.4h4.6v4.6h-4.6zM649.8,64.6h4.6v4.6h-4.6zM649.8,71.8h4.6v4.6h-4.6zM649.8,78.9h4.6v4.6h-4.6zM649.8,86.1h4.6v4.6h-4.6zM649.8,93.3h4.6v4.6h-4.6zM649.8,100.5h4.6v4.6h-4.6zM649.8,107.7h4.6v4.6h-4.6zM649.8,114.9h4.6v4.6h-4.6zM649.8,122.1h4.6v4.6h-4.6zM657.0,21.4h4.6v4.6h-4.6zM657.0,28.6h4.6v4.6h-4.6zM657.0,35.8h4.6v4.6h-4.6zM657.0,43.0h4.6v4.6h-4.6zM657.0,50.2h4.6v4.6h-4.6zM657.0,57.4h4.6v4.6h-4.6zM657.0,64.6h4.6v4.6h-4.6zM657.0,71.8h4.6v4.6h-4.6zM657.0,78.9h4.6v4.6h-4.6zM657.0,86.1h4.6v4.6h-4.6zM657.0,93.3h4.6v4.6h-4.6zM657.0,100.5h4.6v4.6h-4.6zM657.0,107.7h4.6v4.6h-4.6zM657.0,114.9h4.6v4.6h-4.6zM657.0,122.1h4.6v4.6h-4.6zM664.2,21.4h4.6v4.6h-4.6zM664.2,28.6h4.6v4.6h-4.6zM664.2,35.8h4.6v4.6h-4.6zM664.2,57.4h4.6v4.6h-4.6zM664.2,64.6h4.6v4.6h-4.6zM664.2,71.8h4.6v4.6h-4.6zM664.2,78.9h4.6v4.6h-4.6zM664.2,86.1h4.6v4.6h-4.6zM664.2,93.3h4.6v4.6h-4.6zM664.2,100.5h4.6v4.6h-4.6zM664.2,107.7h4.6v4.6h-4.6zM664.2,114.9h4.6v4.6h-4.6zM664.2,122.1h4.6v4.6h-4.6zM664.2,129.3h4.6v4.6h-4.6zM671.4,21.4h4.6v4.6h-4.6zM671.4,28.6h4.6v4.6h-4.6zM671.4,35.8h4.6v4.6h-4.6zM671.4,57.4h4.6v4.6h-4.6zM671.4,64.6h4.6v4.6h-4.6zM671.4,71.8h4.6v4.6h-4.6zM671.4,78.9h4.6v4.6h-4.6zM671.4,86.1h4.6v4.6h-4.6zM671.4,93.3h4.6v4.6h-4.6zM671.4,100.5h4.6v4.6h-4.6zM671.4,107.7h4.6v4.6h-4.6zM671.4,114.9h4.6v4.6h-4.6zM671.4,122.1h4.6v4.6h-4.6zM671.4,129.3h4.6v4.6h-4.6zM678.6,21.4h4.6v4.6h-4.6zM678.6,28.6h4.6v4.6h-4.6zM678.6,35.8h4.6v4.6h-4.6zM678.6,43.0h4.6v4.6h-4.6zM678.6,50.2h4.6v4.6h-4.6zM678.6,57.4h4.6v4.6h-4.6zM678.6,64.6h4.6v4.6h-4.6zM678.6,71.8h4.6v4.6h-4.6zM678.6,78.9h4.6v4.6h-4.6zM678.6,86.1h4.6v4.6h-4.6zM678.6,93.3h4.6v4.6h-4.6zM678.6,100.5h4.6v4.6h-4.6zM678.6,107.7h4.6v4.6h-4.6zM678.6,122.1h4.6v4.6h-4.6zM678.6,129.3h4.6v4.6h-4.6zM678.6,136.5h4.6v4.6h-4.6zM685.8,0.0h4.6v4.4h-4.6zM685.8,21.4h4.6v4.6h-4.6zM685.8,28.6h4.6v4.6h-4.6zM685.8,35.8h4.6v4.6h-4.6zM685.8,43.0h4.6v4.6h-4.6zM685.8,50.2h4.6v4.6h-4.6zM685.8,57.4h4.6v4.6h-4.6zM685.8,64.6h4.6v4.6h-4.6zM685.8,71.8h4.6v4.6h-4.6zM685.8,78.9h4.6v4.6h-4.6zM685.8,86.1h4.6v4.6h-4.6zM685.8,93.3h4.6v4.6h-4.6zM685.8,100.5h4.6v4.6h-4.6zM685.8,107.7h4.6v4.6h-4.6zM685.8,114.9h4.6v4.6h-4.6zM685.8,122.1h4.6v4.6h-4.6zM685.8,129.3h4.6v4.6h-4.6zM685.8,136.5h4.6v4.6h-4.6zM685.8,143.7h4.6v4.6h-4.6zM693.0,21.4h4.6v4.6h-4.6zM693.0,28.6h4.6v4.6h-4.6zM693.0,35.8h4.6v4.6h-4.6zM693.0,43.0h4.6v4.6h-4.6zM693.0,50.2h4.6v4.6h-4.6zM693.0,57.4h4.6v4.6h-4.6zM693.0,64.6h4.6v4.6h-4.6zM693.0,71.8h4.6v4.6h-4.6zM693.0,78.9h4.6v4.6h-4.6zM693.0,86.1h4.6v4.6h-4.6zM693.0,93.3h4.6v4.6h-4.6zM693.0,107.7h4.6v4.6h-4.6zM693.0,114.9h4.6v4.6h-4.6zM693.0,122.1h4.6v4.6h-4.6zM693.0,129.3h4.6v4.6h-4.6zM693.0,136.5h4.6v4.6h-4.6zM693.0,143.7h4.6v4.6h-4.6zM700.2,21.4h4.6v4.6h-4.6zM700.2,35.8h4.6v4.6h-4.6zM700.2,43.0h4.6v4.6h-4.6zM700.2,50.2h4.6v4.6h-4.6zM700.2,57.4h4.6v4.6h-4.6zM700.2,64.6h4.6v4.6h-4.6zM700.2,71.8h4.6v4.6h-4.6zM700.2,78.9h4.6v4.6h-4.6zM700.2,86.1h4.6v4.6h-4.6zM700.2,93.3h4.6v4.6h-4.6zM700.2,100.5h4.6v4.6h-4.6zM700.2,107.7h4.6v4.6h-4.6zM700.2,114.9h4.6v4.6h-4.6zM700.2,122.1h4.6v4.6h-4.6zM700.2,136.5h4.6v4.6h-4.6zM700.2,150.8h4.6v4.6h-4.6zM707.4,14.2h4.6v4.6h-4.6zM707.4,21.4h4.6v4.6h-4.6zM707.4,28.6h4.6v4.6h-4.6zM707.4,35.8h4.6v4.6h-4.6zM707.4,43.0h4.6v4.6h-4.6zM707.4,50.2h4.6v4.6h-4.6zM707.4,57.4h4.6v4.6h-4.6zM707.4,64.6h4.6v4.6h-4.6zM707.4,71.8h4.6v4.6h-4.6zM707.4,78.9h4.6v4.6h-4.6zM707.4,93.3h4.6v4.6h-4.6zM707.4,100.5h4.6v4.6h-4.6zM707.4,107.7h4.6v4.6h-4.6zM707.4,114.9h4.6v4.6h-4.6zM707.4,122.1h4.6v4.6h-4.6zM707.4,129.3h4.6v4.6h-4.6zM707.4,136.5h4.6v4.6h-4.6zM707.4,150.8h4.6v4.6h-4.6zM714.5,14.2h4.6v4.6h-4.6zM714.5,21.4h4.6v4.6h-4.6zM714.5,35.8h4.6v4.6h-4.6zM714.5,43.0h4.6v4.6h-4.6zM714.5,50.2h4.6v4.6h-4.6zM714.5,57.4h4.6v4.6h-4.6zM714.5,64.6h4.6v4.6h-4.6zM714.5,71.8h4.6v4.6h-4.6zM714.5,93.3h4.6v4.6h-4.6zM714.5,100.5h4.6v4.6h-4.6zM714.5,107.7h4.6v4.6h-4.6zM714.5,114.9h4.6v4.6h-4.6zM714.5,122.1h4.6v4.6h-4.6zM714.5,129.3h4.6v4.6h-4.6zM714.5,150.8h4.6v4.6h-4.6zM714.5,158.0h4.6v4.6h-4.6zM721.7,0.0h4.6v4.4h-4.6zM721.7,21.4h4.6v4.6h-4.6zM721.7,28.6h4.6v4.6h-4.6zM721.7,35.8h4.6v4.6h-4.6zM721.7,43.0h4.6v4.6h-4.6zM721.7,50.2h4.6v4.6h-4.6zM721.7,57.4h4.6v4.6h-4.6zM721.7,64.6h4.6v4.6h-4.6zM721.7,71.8h4.6v4.6h-4.6zM721.7,78.9h4.6v4.6h-4.6zM721.7,86.1h4.6v4.6h-4.6zM721.7,93.3h4.6v4.6h-4.6zM721.7,100.5h4.6v4.6h-4.6zM721.7,107.7h4.6v4.6h-4.6zM721.7,122.1h4.6v4.6h-4.6zM721.7,129.3h4.6v4.6h-4.6zM721.7,136.5h4.6v4.6h-4.6zM721.7,143.7h4.6v4.6h-4.6zM721.7,158.0h4.6v4.6h-4.6zM728.9,0.0h4.6v4.4h-4.6zM728.9,7.0h4.6v4.6h-4.6zM728.9,21.4h4.6v4.6h-4.6zM728.9,28.6h4.6v4.6h-4.6zM728.9,35.8h4.6v4.6h-4.6zM728.9,43.0h4.6v4.6h-4.6zM728.9,50.2h4.6v4.6h-4.6zM728.9,57.4h4.6v4.6h-4.6zM728.9,64.6h4.6v4.6h-4.6zM728.9,71.8h4.6v4.6h-4.6zM728.9,78.9h4.6v4.6h-4.6zM728.9,86.1h4.6v4.6h-4.6zM728.9,93.3h4.6v4.6h-4.6zM728.9,100.5h4.6v4.6h-4.6zM728.9,107.7h4.6v4.6h-4.6zM728.9,114.9h4.6v4.6h-4.6zM728.9,122.1h4.6v4.6h-4.6zM728.9,129.3h4.6v4.6h-4.6zM736.1,0.0h4.6v4.4h-4.6zM736.1,7.0h4.6v4.6h-4.6zM736.1,21.4h4.6v4.6h-4.6zM736.1,28.6h4.6v4.6h-4.6zM736.1,35.8h4.6v4.6h-4.6zM736.1,43.0h4.6v4.6h-4.6zM736.1,50.2h4.6v4.6h-4.6zM736.1,57.4h4.6v4.6h-4.6zM736.1,64.6h4.6v4.6h-4.6zM736.1,71.8h4.6v4.6h-4.6zM736.1,78.9h4.6v4.6h-4.6zM736.1,86.1h4.6v4.6h-4.6zM736.1,100.5h4.6v4.6h-4.6zM736.1,107.7h4.6v4.6h-4.6zM736.1,114.9h4.6v4.6h-4.6zM736.1,122.1h4.6v4.6h-4.6zM743.3,0.0h4.6v4.4h-4.6zM743.3,7.0h4.6v4.6h-4.6zM743.3,21.4h4.6v4.6h-4.6zM743.3,28.6h4.6v4.6h-4.6zM743.3,35.8h4.6v4.6h-4.6zM743.3,43.0h4.6v4.6h-4.6zM743.3,50.2h4.6v4.6h-4.6zM743.3,57.4h4.6v4.6h-4.6zM743.3,64.6h4.6v4.6h-4.6zM743.3,78.9h4.6v4.6h-4.6zM743.3,86.1h4.6v4.6h-4.6zM743.3,93.3h4.6v4.6h-4.6zM743.3,100.5h4.6v4.6h-4.6zM743.3,107.7h4.6v4.6h-4.6zM743.3,114.9h4.6v4.6h-4.6zM743.3,122.1h4.6v4.6h-4.6zM743.3,179.6h4.6v4.6h-4.6zM750.5,0.0h4.6v4.4h-4.6zM750.5,7.0h4.6v4.6h-4.6zM750.5,28.6h4.6v4.6h-4.6zM750.5,35.8h4.6v4.6h-4.6zM750.5,50.2h4.6v4.6h-4.6zM750.5,57.4h4.6v4.6h-4.6zM750.5,64.6h4.6v4.6h-4.6zM750.5,71.8h4.6v4.6h-4.6zM750.5,78.9h4.6v4.6h-4.6zM750.5,86.1h4.6v4.6h-4.6zM750.5,93.3h4.6v4.6h-4.6zM750.5,100.5h4.6v4.6h-4.6zM750.5,107.7h4.6v4.6h-4.6zM750.5,114.9h4.6v4.6h-4.6zM750.5,179.6h4.6v4.6h-4.6zM750.5,186.8h4.6v4.6h-4.6zM750.5,194.0h4.6v4.6h-4.6zM750.5,201.2h4.6v4.6h-4.6zM750.5,208.4h4.6v4.6h-4.6zM750.5,215.6h4.6v4.6h-4.6zM757.7,21.4h4.6v4.6h-4.6zM757.7,28.6h4.6v4.6h-4.6zM757.7,35.8h4.6v4.6h-4.6zM757.7,57.4h4.6v4.6h-4.6zM757.7,64.6h4.6v4.6h-4.6zM757.7,71.8h4.6v4.6h-4.6zM757.7,78.9h4.6v4.6h-4.6zM757.7,86.1h4.6v4.6h-4.6zM757.7,93.3h4.6v4.6h-4.6zM757.7,100.5h4.6v4.6h-4.6zM757.7,179.6h4.6v4.6h-4.6zM757.7,186.8h4.6v4.6h-4.6zM757.7,194.0h4.6v4.6h-4.6zM757.7,201.2h4.6v4.6h-4.6zM757.7,208.4h4.6v4.6h-4.6zM757.7,215.6h4.6v4.6h-4.6zM757.7,222.7h4.6v4.6h-4.6zM757.7,229.9h4.6v4.6h-4.6zM757.7,301.8h4.6v4.6h-4.6zM757.7,309.0h4.6v4.6h-4.6zM764.9,21.4h4.6v4.6h-4.6zM764.9,28.6h4.6v4.6h-4.6zM764.9,35.8h4.6v4.6h-4.6zM764.9,43.0h4.6v4.6h-4.6zM764.9,50.2h4.6v4.6h-4.6zM764.9,57.4h4.6v4.6h-4.6zM764.9,64.6h4.6v4.6h-4.6zM764.9,71.8h4.6v4.6h-4.6zM764.9,78.9h4.6v4.6h-4.6zM764.9,86.1h4.6v4.6h-4.6zM764.9,93.3h4.6v4.6h-4.6zM764.9,179.6h4.6v4.6h-4.6zM764.9,186.8h4.6v4.6h-4.6zM764.9,194.0h4.6v4.6h-4.6zM764.9,201.2h4.6v4.6h-4.6zM764.9,208.4h4.6v4.6h-4.6zM764.9,215.6h4.6v4.6h-4.6zM764.9,222.7h4.6v4.6h-4.6zM764.9,229.9h4.6v4.6h-4.6zM764.9,280.3h4.6v4.6h-4.6zM764.9,287.4h4.6v4.6h-4.6zM764.9,294.6h4.6v4.6h-4.6zM764.9,301.8h4.6v4.6h-4.6zM764.9,309.0h4.6v4.6h-4.6zM772.1,0.0h4.6v4.4h-4.6zM772.1,7.0h4.6v4.6h-4.6zM772.1,21.4h4.6v4.6h-4.6zM772.1,28.6h4.6v4.6h-4.6zM772.1,35.8h4.6v4.6h-4.6zM772.1,50.2h4.6v4.6h-4.6zM772.1,57.4h4.6v4.6h-4.6zM772.1,64.6h4.6v4.6h-4.6zM772.1,71.8h4.6v4.6h-4.6zM772.1,78.9h4.6v4.6h-4.6zM772.1,86.1h4.6v4.6h-4.6zM772.1,93.3h4.6v4.6h-4.6zM772.1,179.6h4.6v4.6h-4.6zM772.1,186.8h4.6v4.6h-4.6zM772.1,194.0h4.6v4.6h-4.6zM772.1,201.2h4.6v4.6h-4.6zM772.1,208.4h4.6v4.6h-4.6zM772.1,215.6h4.6v4.6h-4.6zM772.1,222.7h4.6v4.6h-4.6zM772.1,229.9h4.6v4.6h-4.6zM772.1,237.1h4.6v4.6h-4.6zM772.1,244.3h4.6v4.6h-4.6zM772.1,251.5h4.6v4.6h-4.6zM772.1,258.7h4.6v4.6h-4.6zM772.1,265.9h4.6v4.6h-4.6zM772.1,273.1h4.6v4.6h-4.6zM772.1,280.3h4.6v4.6h-4.6zM772.1,294.6h4.6v4.6h-4.6zM772.1,301.8h4.6v4.6h-4.6zM772.1,309.0h4.6v4.6h-4.6zM779.3,0.0h4.6v4.4h-4.6zM779.3,7.0h4.6v4.6h-4.6zM779.3,21.4h4.6v4.6h-4.6zM779.3,28.6h4.6v4.6h-4.6zM779.3,35.8h4.6v4.6h-4.6zM779.3,43.0h4.6v4.6h-4.6zM779.3,50.2h4.6v4.6h-4.6zM779.3,64.6h4.6v4.6h-4.6zM779.3,71.8h4.6v4.6h-4.6zM779.3,78.9h4.6v4.6h-4.6zM779.3,86.1h4.6v4.6h-4.6zM779.3,179.6h4.6v4.6h-4.6zM779.3,186.8h4.6v4.6h-4.6zM779.3,194.0h4.6v4.6h-4.6zM779.3,201.2h4.6v4.6h-4.6zM779.3,208.4h4.6v4.6h-4.6zM779.3,215.6h4.6v4.6h-4.6zM779.3,222.7h4.6v4.6h-4.6zM779.3,229.9h4.6v4.6h-4.6zM779.3,237.1h4.6v4.6h-4.6zM779.3,244.3h4.6v4.6h-4.6zM779.3,251.5h4.6v4.6h-4.6zM779.3,258.7h4.6v4.6h-4.6zM779.3,265.9h4.6v4.6h-4.6zM779.3,273.1h4.6v4.6h-4.6zM779.3,280.3h4.6v4.6h-4.6zM779.3,287.4h4.6v4.6h-4.6zM786.4,0.0h4.6v4.4h-4.6zM786.4,7.0h4.6v4.6h-4.6zM786.4,21.4h4.6v4.6h-4.6zM786.4,28.6h4.6v4.6h-4.6zM786.4,35.8h4.6v4.6h-4.6zM786.4,43.0h4.6v4.6h-4.6zM786.4,50.2h4.6v4.6h-4.6zM786.4,57.4h4.6v4.6h-4.6zM786.4,64.6h4.6v4.6h-4.6zM786.4,71.8h4.6v4.6h-4.6zM786.4,179.6h4.6v4.6h-4.6zM786.4,186.8h4.6v4.6h-4.6zM786.4,194.0h4.6v4.6h-4.6zM786.4,201.2h4.6v4.6h-4.6zM786.4,208.4h4.6v4.6h-4.6zM786.4,215.6h4.6v4.6h-4.6zM786.4,222.7h4.6v4.6h-4.6zM786.4,229.9h4.6v4.6h-4.6zM786.4,237.1h4.6v4.6h-4.6zM786.4,244.3h4.6v4.6h-4.6zM786.4,251.5h4.6v4.6h-4.6zM786.4,258.7h4.6v4.6h-4.6zM786.4,265.9h4.6v4.6h-4.6zM786.4,273.1h4.6v4.6h-4.6zM786.4,280.3h4.6v4.6h-4.6zM786.4,287.4h4.6v4.6h-4.6zM793.6,0.0h4.6v4.4h-4.6zM793.6,7.0h4.6v4.6h-4.6zM793.6,21.4h4.6v4.6h-4.6zM793.6,28.6h4.6v4.6h-4.6zM793.6,35.8h4.6v4.6h-4.6zM793.6,43.0h4.6v4.6h-4.6zM793.6,50.2h4.6v4.6h-4.6zM793.6,57.4h4.6v4.6h-4.6zM793.6,64.6h4.6v4.6h-4.6zM793.6,71.8h4.6v4.6h-4.6zM793.6,179.6h4.6v4.6h-4.6zM793.6,186.8h4.6v4.6h-4.6zM793.6,194.0h4.6v4.6h-4.6zM793.6,201.2h4.6v4.6h-4.6zM793.6,208.4h4.6v4.6h-4.6zM793.6,215.6h4.6v4.6h-4.6zM793.6,222.7h4.6v4.6h-4.6zM793.6,229.9h4.6v4.6h-4.6zM793.6,237.1h4.6v4.6h-4.6zM793.6,244.3h4.6v4.6h-4.6zM793.6,251.5h4.6v4.6h-4.6zM793.6,258.7h4.6v4.6h-4.6zM793.6,273.1h4.6v4.6h-4.6zM793.6,280.3h4.6v4.6h-4.6zM793.6,287.4h4.6v4.6h-4.6zM800.8,0.0h4.6v4.4h-4.6zM800.8,7.0h4.6v4.6h-4.6zM800.8,21.4h4.6v4.6h-4.6zM800.8,50.2h4.6v4.6h-4.6zM800.8,57.4h4.6v4.6h-4.6zM800.8,64.6h4.6v4.6h-4.6zM800.8,71.8h4.6v4.6h-4.6zM800.8,186.8h4.6v4.6h-4.6zM800.8,194.0h4.6v4.6h-4.6zM800.8,208.4h4.6v4.6h-4.6zM800.8,215.6h4.6v4.6h-4.6zM800.8,222.7h4.6v4.6h-4.6zM800.8,229.9h4.6v4.6h-4.6zM800.8,237.1h4.6v4.6h-4.6zM800.8,251.5h4.6v4.6h-4.6zM800.8,258.7h4.6v4.6h-4.6zM800.8,265.9h4.6v4.6h-4.6zM800.8,273.1h4.6v4.6h-4.6zM800.8,280.3h4.6v4.6h-4.6zM800.8,287.4h4.6v4.6h-4.6zM808.0,0.0h4.6v4.4h-4.6zM808.0,7.0h4.6v4.6h-4.6zM808.0,14.2h4.6v4.6h-4.6zM808.0,21.4h4.6v4.6h-4.6zM808.0,50.2h4.6v4.6h-4.6zM808.0,57.4h4.6v4.6h-4.6zM808.0,64.6h4.6v4.6h-4.6zM808.0,71.8h4.6v4.6h-4.6zM808.0,179.6h4.6v4.6h-4.6zM808.0,186.8h4.6v4.6h-4.6zM808.0,194.0h4.6v4.6h-4.6zM808.0,201.2h4.6v4.6h-4.6zM808.0,208.4h4.6v4.6h-4.6zM808.0,215.6h4.6v4.6h-4.6zM808.0,222.7h4.6v4.6h-4.6zM808.0,229.9h4.6v4.6h-4.6zM808.0,237.1h4.6v4.6h-4.6zM808.0,251.5h4.6v4.6h-4.6zM808.0,258.7h4.6v4.6h-4.6zM808.0,265.9h4.6v4.6h-4.6zM808.0,273.1h4.6v4.6h-4.6zM815.2,0.0h4.6v4.4h-4.6zM815.2,7.0h4.6v4.6h-4.6zM815.2,14.2h4.6v4.6h-4.6zM815.2,21.4h4.6v4.6h-4.6zM815.2,50.2h4.6v4.6h-4.6zM815.2,57.4h4.6v4.6h-4.6zM815.2,64.6h4.6v4.6h-4.6zM815.2,71.8h4.6v4.6h-4.6zM815.2,179.6h4.6v4.6h-4.6zM815.2,186.8h4.6v4.6h-4.6zM815.2,194.0h4.6v4.6h-4.6zM815.2,201.2h4.6v4.6h-4.6zM815.2,208.4h4.6v4.6h-4.6zM815.2,215.6h4.6v4.6h-4.6zM815.2,222.7h4.6v4.6h-4.6zM815.2,229.9h4.6v4.6h-4.6zM815.2,237.1h4.6v4.6h-4.6zM815.2,244.3h4.6v4.6h-4.6zM815.2,251.5h4.6v4.6h-4.6zM815.2,258.7h4.6v4.6h-4.6zM815.2,265.9h4.6v4.6h-4.6zM822.4,0.0h4.6v4.4h-4.6zM822.4,7.0h4.6v4.6h-4.6zM822.4,14.2h4.6v4.6h-4.6zM822.4,21.4h4.6v4.6h-4.6zM822.4,50.2h4.6v4.6h-4.6zM822.4,57.4h4.6v4.6h-4.6zM822.4,64.6h4.6v4.6h-4.6zM822.4,71.8h4.6v4.6h-4.6zM822.4,179.6h4.6v4.6h-4.6zM822.4,194.0h4.6v4.6h-4.6zM822.4,201.2h4.6v4.6h-4.6zM822.4,208.4h4.6v4.6h-4.6zM822.4,215.6h4.6v4.6h-4.6zM822.4,222.7h4.6v4.6h-4.6zM822.4,229.9h4.6v4.6h-4.6zM822.4,237.1h4.6v4.6h-4.6zM822.4,251.5h4.6v4.6h-4.6zM829.6,0.0h4.6v4.4h-4.6zM829.6,14.2h4.6v4.6h-4.6zM829.6,21.4h4.6v4.6h-4.6zM829.6,50.2h4.6v4.6h-4.6zM829.6,57.4h4.6v4.6h-4.6zM829.6,64.6h4.6v4.6h-4.6zM829.6,71.8h4.6v4.6h-4.6zM829.6,186.8h4.6v4.6h-4.6zM829.6,194.0h4.6v4.6h-4.6zM829.6,201.2h4.6v4.6h-4.6zM829.6,208.4h4.6v4.6h-4.6zM829.6,215.6h4.6v4.6h-4.6zM829.6,222.7h4.6v4.6h-4.6zM829.6,229.9h4.6v4.6h-4.6zM829.6,237.1h4.6v4.6h-4.6zM829.6,244.3h4.6v4.6h-4.6zM836.8,0.0h4.6v4.4h-4.6zM836.8,7.0h4.6v4.6h-4.6zM836.8,14.2h4.6v4.6h-4.6zM836.8,21.4h4.6v4.6h-4.6zM836.8,50.2h4.6v4.6h-4.6zM836.8,57.4h4.6v4.6h-4.6zM836.8,64.6h4.6v4.6h-4.6zM836.8,71.8h4.6v4.6h-4.6zM836.8,194.0h4.6v4.6h-4.6zM836.8,201.2h4.6v4.6h-4.6zM836.8,208.4h4.6v4.6h-4.6zM836.8,215.6h4.6v4.6h-4.6zM836.8,222.7h4.6v4.6h-4.6zM836.8,229.9h4.6v4.6h-4.6zM836.8,237.1h4.6v4.6h-4.6zM836.8,244.3h4.6v4.6h-4.6zM844.0,0.0h4.6v4.4h-4.6zM844.0,7.0h4.6v4.6h-4.6zM844.0,14.2h4.6v4.6h-4.6zM844.0,21.4h4.6v4.6h-4.6zM844.0,50.2h4.6v4.6h-4.6zM844.0,57.4h4.6v4.6h-4.6zM844.0,64.6h4.6v4.6h-4.6zM844.0,71.8h4.6v4.6h-4.6zM844.0,208.4h4.6v4.6h-4.6zM844.0,215.6h4.6v4.6h-4.6zM844.0,222.7h4.6v4.6h-4.6zM844.0,229.9h4.6v4.6h-4.6zM851.2,0.0h4.6v4.4h-4.6zM851.2,7.0h4.6v4.6h-4.6zM851.2,14.2h4.6v4.6h-4.6zM851.2,21.4h4.6v4.6h-4.6zM851.2,28.6h4.6v4.6h-4.6zM851.2,35.8h4.6v4.6h-4.6zM851.2,43.0h4.6v4.6h-4.6zM851.2,50.2h4.6v4.6h-4.6zM851.2,57.4h4.6v4.6h-4.6zM851.2,64.6h4.6v4.6h-4.6zM851.2,71.8h4.6v4.6h-4.6zM858.3,0.0h4.6v4.4h-4.6zM858.3,7.0h4.6v4.6h-4.6zM858.3,14.2h4.6v4.6h-4.6zM858.3,21.4h4.6v4.6h-4.6zM858.3,28.6h4.6v4.6h-4.6zM858.3,35.8h4.6v4.6h-4.6zM858.3,43.0h4.6v4.6h-4.6zM858.3,50.2h4.6v4.6h-4.6zM858.3,57.4h4.6v4.6h-4.6zM858.3,64.6h4.6v4.6h-4.6zM858.3,71.8h4.6v4.6h-4.6zM865.5,0.0h4.6v4.4h-4.6zM865.5,7.0h4.6v4.6h-4.6zM865.5,14.2h4.6v4.6h-4.6zM865.5,21.4h4.6v4.6h-4.6zM865.5,28.6h4.6v4.6h-4.6zM865.5,35.8h4.6v4.6h-4.6zM865.5,43.0h4.6v4.6h-4.6zM865.5,50.2h4.6v4.6h-4.6zM865.5,57.4h4.6v4.6h-4.6zM865.5,64.6h4.6v4.6h-4.6zM865.5,71.8h4.6v4.6h-4.6zM872.7,0.0h4.6v4.4h-4.6zM872.7,7.0h4.6v4.6h-4.6zM872.7,14.2h4.6v4.6h-4.6zM872.7,21.4h4.6v4.6h-4.6zM872.7,28.6h4.6v4.6h-4.6zM872.7,35.8h4.6v4.6h-4.6zM872.7,43.0h4.6v4.6h-4.6zM872.7,50.2h4.6v4.6h-4.6zM872.7,57.4h4.6v4.6h-4.6zM879.9,7.0h4.6v4.6h-4.6zM879.9,14.2h4.6v4.6h-4.6zM879.9,21.4h4.6v4.6h-4.6zM879.9,28.6h4.6v4.6h-4.6zM879.9,35.8h4.6v4.6h-4.6zM887.1,0.0h4.6v4.4h-4.6zM887.1,7.0h4.6v4.6h-4.6z" fill="url(#dg)"/>
<rect x="140.79999999999998" y="10.4" width="215.60000000000002" height="50.4" fill="#0c2458" fill-opacity="0.78" stroke="#0a1a48" stroke-opacity="0.8" stroke-width="1.4"/>
<rect x="52.6" y="115.8" width="190.8" height="76.6" fill="#26496c" fill-opacity="0.67" stroke="#1c416c" stroke-opacity="0.8" stroke-width="1.4"/>
<rect x="699.4" y="21.8" width="212.0" height="53.099999999999994" fill="#26496c" fill-opacity="0.67" stroke="#1c416c" stroke-opacity="0.8" stroke-width="1.4"/>
<rect x="730.2" y="124.8" width="181.0" height="78.0" fill="#26496c" fill-opacity="0.67" stroke="#1c416c" stroke-opacity="0.8" stroke-width="1.4"/>
<rect x="363.6" y="237.79999999999998" width="206.3" height="50.0" fill="#26496c" fill-opacity="0.67" stroke="#1c416c" stroke-opacity="0.8" stroke-width="1.4"/>
<rect x="162.6" y="280.40000000000003" width="86.8" height="50.0" fill="#224566" fill-opacity="0.68" stroke="#1a3a60" stroke-opacity="0.8" stroke-width="1.4"/>
<line x1="382.0" y1="133.0" x2="114.0" y2="287.5" stroke="#2d4c74" stroke-width="2.9"/>
<polygon points="104.5,293.0 112.3,282.5 117.5,291.6" fill="#2d4c74"/>
<line x1="387.5" y1="143.0" x2="318.4" y2="209.9" stroke="#2d4c74" stroke-width="2.9"/>
<polygon points="310.5,217.5 315.5,205.4 322.8,212.9" fill="#2d4c74"/>
<line x1="666.0" y1="266.0" x2="616.8" y2="165.9" stroke="#2d4c74" stroke-width="2.9"/>
<polygon points="612.0,156.0 622.0,164.5 612.6,169.1" fill="#2d4c74"/>
<line x1="869.0" y1="320.0" x2="632.4" y2="146.5" stroke="#2d4c74" stroke-width="2.9"/>
<polygon points="623.5,140.0 636.3,142.9 630.1,151.3" fill="#2d4c74"/>
<path d="M593.4,65.3 L592.7,58.4 L591.6,53.1 L589.5,46.6 L586.7,40.4 L583.2,34.6 L579.9,30.4 L576.3,26.5 L571.2,22.2 L565.7,18.6 L559.9,15.8 L553.8,13.7 L548.7,12.6 L542.3,12.0 L537.1,12.2 L530.8,13.1 L525.8,14.4 L522.1,15.8 L517.4,18.0 L510.8,22.2 L506.7,25.6 L503.9,28.4 L498.8,34.6 L496.0,39.2 L494.1,42.8 L491.1,50.4 L490.1,54.4 L489.1,59.8 L488.6,63.9 L488.5,69.0 L485.2,64.2 L481.6,60.4 L476.8,56.8 L472.3,54.3 L466.6,52.4 L461.5,51.5 L455.4,51.4 L450.3,52.2 L446.1,53.4 L441.4,55.5 L437.0,58.2 L433.1,61.6 L429.7,65.5 L427.0,69.9 L424.9,74.6 L423.6,79.0 L418.3,79.6 L412.2,81.3 L407.3,83.7 L402.0,87.4 L398.1,91.3 L394.2,96.6 L391.1,102.5 L389.3,108.0 L388.2,114.6 L388.0,120.4 L388.7,126.2 L390.1,131.8 L392.3,137.1 L395.2,142.0 L398.1,145.7 L402.0,149.6 L405.7,152.4 L410.5,155.0 L414.8,156.6 L420.0,157.7 L424.5,158.0 L581.0,158.0 L586.4,157.6 L592.6,156.1 L597.6,154.0 L603.0,150.7 L607.8,146.4 L611.3,142.2 L614.0,137.5 L616.1,132.4 L617.5,127.1 L618.0,120.7 L617.5,114.3 L616.1,109.0 L614.0,103.9 L610.7,98.5 L606.5,93.7 L602.3,90.2 L596.8,87.0 L591.1,84.8 L592.2,80.3 L593.1,74.9 L593.5,69.4 L593.4,65.3Z" fill="#21478a" stroke="#1a3a72" stroke-width="2" stroke-linejoin="round"/>
<path d="M458.1,114 V138.5 L491.3,171.5 V207" fill="none" stroke="#1b3a72" stroke-width="5.2" stroke-linecap="round" stroke-linejoin="miter"/>
<path d="M509.3,137 V192" fill="none" stroke="#1b3a72" stroke-width="5.2" stroke-linecap="round" stroke-linejoin="miter"/>
<path d="M551,92 V136.5 L529,158.5 V207" fill="none" stroke="#1b3a72" stroke-width="5.2" stroke-linecap="round" stroke-linejoin="miter"/>
<g clip-path="url(#cloudclip)">
<path d="M458.1,114 V138.5 L491.3,171.5 V207" fill="none" stroke="#8db4e4" stroke-width="5.2" stroke-linecap="butt" stroke-linejoin="miter"/>
<path d="M509.3,137 V192" fill="none" stroke="#8db4e4" stroke-width="5.2" stroke-linecap="butt" stroke-linejoin="miter"/>
<path d="M551,92 V136.5 L529,158.5 V207" fill="none" stroke="#8db4e4" stroke-width="5.2" stroke-linecap="butt" stroke-linejoin="miter"/>
</g>
<circle cx="458.1" cy="103" r="11.6" fill="#21478a" stroke="#8db4e4" stroke-width="5.2"/>
<circle cx="509.3" cy="125.2" r="11.6" fill="#21478a" stroke="#8db4e4" stroke-width="5.2"/>
<circle cx="551" cy="80.6" r="11.6" fill="#21478a" stroke="#8db4e4" stroke-width="5.2"/>
<rect x="463.3" y="10.6" width="6.8" height="6.8" fill="#ffffff" fill-opacity="0.64"/>
<rect x="438.3" y="19.3" width="6.8" height="6.8" fill="#ffffff" fill-opacity="0.64"/>
<rect x="463.3" y="19.3" width="6.8" height="6.8" fill="#ffffff" fill-opacity="0.64"/>
<rect x="470.9" y="19.3" width="6.8" height="6.8" fill="#ffffff" fill-opacity="0.64"/>
<rect x="398.3" y="27.3" width="6.8" height="6.8" fill="#ffffff" fill-opacity="0.64"/>
<rect x="406.6" y="27.3" width="6.8" height="6.8" fill="#ffffff" fill-opacity="0.64"/>
<rect x="414.9" y="27.3" width="6.8" height="6.8" fill="#ffffff" fill-opacity="0.64"/>
<rect x="430.9" y="27.3" width="6.8" height="6.8" fill="#ffffff" fill-opacity="0.64"/>
<rect x="454.9" y="27.3" width="6.8" height="6.8" fill="#ffffff" fill-opacity="0.64"/>
<rect x="406.6" y="35.6" width="6.8" height="6.8" fill="#ffffff" fill-opacity="0.64"/>
<rect x="422.6" y="35.6" width="6.8" height="6.8" fill="#ffffff" fill-opacity="0.64"/>
<rect x="438.3" y="35.6" width="6.8" height="6.8" fill="#ffffff" fill-opacity="0.64"/>
<rect x="454.9" y="35.6" width="6.8" height="6.8" fill="#ffffff" fill-opacity="0.64"/>
<rect x="414.9" y="43.3" width="6.8" height="6.8" fill="#ffffff" fill-opacity="0.64"/>
<rect x="422.6" y="43.3" width="6.8" height="6.8" fill="#ffffff" fill-opacity="0.64"/>
<rect x="454.9" y="43.3" width="6.8" height="6.8" fill="#ffffff" fill-opacity="0.64"/>
<rect x="463.3" y="43.3" width="6.8" height="6.8" fill="#ffffff" fill-opacity="0.64"/>
<rect x="470.9" y="43.3" width="6.8" height="6.8" fill="#ffffff" fill-opacity="0.64"/>
<rect x="422.6" y="50.6" width="6.8" height="6.8" fill="#ffffff" fill-opacity="0.64"/>
<rect x="430.9" y="50.6" width="6.8" height="6.8" fill="#ffffff" fill-opacity="0.64"/>
<rect x="446.6" y="50.6" width="6.8" height="6.8" fill="#ffffff" fill-opacity="0.64"/>
<rect x="454.9" y="50.6" width="6.8" height="6.8" fill="#ffffff" fill-opacity="0.64"/>
<rect x="479.3" y="50.6" width="6.8" height="6.8" fill="#ffffff" fill-opacity="0.64"/>
<rect x="414.9" y="58.3" width="6.8" height="6.8" fill="#ffffff" fill-opacity="0.64"/>
<rect x="446.6" y="66.6" width="6.8" height="6.8" fill="#a3b8cf" fill-opacity="0.88"/>
<rect x="470.9" y="66.6" width="6.8" height="6.8" fill="#a3b8cf" fill-opacity="0.88"/>
<rect x="406.6" y="74.3" width="6.8" height="6.8" fill="#ffffff" fill-opacity="0.64"/>
<rect x="414.9" y="74.3" width="6.8" height="6.8" fill="#ffffff" fill-opacity="0.64"/>
<rect x="438.3" y="74.3" width="6.8" height="6.8" fill="#a3b8cf" fill-opacity="0.88"/>
<rect x="446.6" y="74.3" width="6.8" height="6.8" fill="#a3b8cf" fill-opacity="0.88"/>
<rect x="454.9" y="74.3" width="6.8" height="6.8" fill="#a3b8cf" fill-opacity="0.88"/>
<rect x="354.9" y="88.3" width="6.8" height="6.8" fill="#ffffff" fill-opacity="0.64"/>
<rect x="406.6" y="88.3" width="6.8" height="6.8" fill="#5cc0e8" fill-opacity="0.95"/>
<rect x="339.9" y="95.9" width="6.8" height="6.8" fill="#ffffff" fill-opacity="0.64"/>
<rect x="354.9" y="95.9" width="6.8" height="6.8" fill="#ffffff" fill-opacity="0.64"/>
<rect x="369.9" y="95.9" width="6.8" height="6.8" fill="#ffffff" fill-opacity="0.64"/>
<rect x="386.6" y="95.9" width="6.8" height="6.8" fill="#ffffff" fill-opacity="0.64"/>
<rect x="378.3" y="103.9" width="6.8" height="6.8" fill="#ffffff" fill-opacity="0.64"/>
<rect x="394.9" y="103.9" width="6.8" height="6.8" fill="#5cc0e8" fill-opacity="0.95"/>
<rect x="354.9" y="111.6" width="6.8" height="6.8" fill="#ffffff" fill-opacity="0.64"/>
<rect x="401.6" y="111.6" width="6.8" height="6.8" fill="#a3b8cf" fill-opacity="0.88"/>
<rect x="426.6" y="111.6" width="6.8" height="6.8" fill="#5cc0e8" fill-opacity="0.95"/>
<rect x="339.9" y="119.9" width="6.8" height="6.8" fill="#ffffff" fill-opacity="0.64"/>
<rect x="354.9" y="119.9" width="6.8" height="6.8" fill="#ffffff" fill-opacity="0.64"/>
<rect x="363.3" y="119.9" width="6.8" height="6.8" fill="#ffffff" fill-opacity="0.64"/>
<rect x="378.3" y="119.9" width="6.8" height="6.8" fill="#ffffff" fill-opacity="0.64"/>
<rect x="386.6" y="119.9" width="6.8" height="6.8" fill="#ffffff" fill-opacity="0.64"/>
<rect x="394.9" y="119.9" width="6.8" height="6.8" fill="#5cc0e8" fill-opacity="0.95"/>
<rect x="401.6" y="119.9" width="6.8" height="6.8" fill="#5cc0e8" fill-opacity="0.95"/>
<rect x="409.9" y="119.9" width="6.8" height="6.8" fill="#5cc0e8" fill-opacity="0.95"/>
<rect x="434.3" y="119.9" width="6.8" height="6.8" fill="#a3b8cf" fill-opacity="0.88"/>
<rect x="354.9" y="127.6" width="6.8" height="6.8" fill="#ffffff" fill-opacity="0.64"/>
<rect x="378.3" y="127.6" width="6.8" height="6.8" fill="#ffffff" fill-opacity="0.64"/>
<rect x="386.6" y="127.6" width="6.8" height="6.8" fill="#ffffff" fill-opacity="0.64"/>
<rect x="394.9" y="127.6" width="6.8" height="6.8" fill="#5cc0e8" fill-opacity="0.95"/>
<rect x="403.3" y="127.6" width="6.8" height="6.8" fill="#5cc0e8" fill-opacity="0.95"/>
<rect x="386.6" y="135.6" width="6.8" height="6.8" fill="#ffffff" fill-opacity="0.64"/>
<rect x="409.9" y="135.6" width="6.8" height="6.8" fill="#a3b8cf" fill-opacity="0.88"/>
<rect x="418.3" y="135.6" width="6.8" height="6.8" fill="#5cc0e8" fill-opacity="0.95"/>
<rect x="426.6" y="135.6" width="6.8" height="6.8" fill="#5cc0e8" fill-opacity="0.95"/>
<rect x="363.3" y="143.3" width="6.8" height="6.8" fill="#ffffff" fill-opacity="0.64"/>
<rect x="386.6" y="143.3" width="6.8" height="6.8" fill="#ffffff" fill-opacity="0.64"/>
<rect x="409.9" y="143.3" width="6.8" height="6.8" fill="#5cc0e8" fill-opacity="0.95"/>
<rect x="378.3" y="151.6" width="6.8" height="6.8" fill="#ffffff" fill-opacity="0.64"/>
<rect x="553.9" y="18.3" width="6.8" height="6.8" fill="#5cc0e8" fill-opacity="0.95"/>
<rect x="538.3" y="25.9" width="6.8" height="6.8" fill="#5cc0e8" fill-opacity="0.95"/>
<rect x="553.9" y="25.9" width="6.8" height="6.8" fill="#a3b8cf" fill-opacity="0.88"/>
<rect x="569.9" y="25.9" width="6.8" height="6.8" fill="#5cc0e8" fill-opacity="0.95"/>
<rect x="585.9" y="25.9" width="6.8" height="6.8" fill="#ffffff" fill-opacity="0.64"/>
<rect x="578.3" y="33.9" width="6.8" height="6.8" fill="#a3b8cf" fill-opacity="0.88"/>
<rect x="593.3" y="33.9" width="6.8" height="6.8" fill="#ffffff" fill-opacity="0.64"/>
<rect x="553.9" y="42.3" width="6.8" height="6.8" fill="#5cc0e8" fill-opacity="0.95"/>
<rect x="578.3" y="42.3" width="6.8" height="6.8" fill="#5cc0e8" fill-opacity="0.95"/>
<rect x="601.6" y="42.3" width="6.8" height="6.8" fill="#ffffff" fill-opacity="0.64"/>
<rect x="624.9" y="42.3" width="6.8" height="6.8" fill="#ffffff" fill-opacity="0.64"/>
<rect x="534.9" y="49.9" width="6.8" height="6.8" fill="#5cc0e8" fill-opacity="0.95"/>
<rect x="553.9" y="49.9" width="6.8" height="6.8" fill="#5cc0e8" fill-opacity="0.95"/>
<rect x="562.6" y="49.9" width="6.8" height="6.8" fill="#5cc0e8" fill-opacity="0.95"/>
<rect x="578.3" y="49.9" width="6.8" height="6.8" fill="#5cc0e8" fill-opacity="0.95"/>
<rect x="585.9" y="49.9" width="6.8" height="6.8" fill="#ffffff" fill-opacity="0.64"/>
<rect x="593.3" y="49.9" width="6.8" height="6.8" fill="#ffffff" fill-opacity="0.64"/>
<rect x="601.6" y="49.9" width="6.8" height="6.8" fill="#ffffff" fill-opacity="0.64"/>
<rect x="609.3" y="49.9" width="6.8" height="6.8" fill="#ffffff" fill-opacity="0.64"/>
<rect x="632.6" y="49.9" width="6.8" height="6.8" fill="#ffffff" fill-opacity="0.64"/>
<rect x="553.9" y="58.3" width="6.8" height="6.8" fill="#5cc0e8" fill-opacity="0.95"/>
<rect x="578.3" y="58.3" width="6.8" height="6.8" fill="#5cc0e8" fill-opacity="0.95"/>
<rect x="585.9" y="58.3" width="6.8" height="6.8" fill="#ffffff" fill-opacity="0.64"/>
<rect x="593.3" y="58.3" width="6.8" height="6.8" fill="#ffffff" fill-opacity="0.64"/>
<rect x="601.6" y="58.3" width="6.8" height="6.8" fill="#ffffff" fill-opacity="0.64"/>
<rect x="585.9" y="66.6" width="6.8" height="6.8" fill="#5cc0e8" fill-opacity="0.95"/>
<rect x="609.3" y="66.6" width="6.8" height="6.8" fill="#ffffff" fill-opacity="0.64"/>
<rect x="617.3" y="66.6" width="6.8" height="6.8" fill="#ffffff" fill-opacity="0.64"/>
<rect x="624.9" y="66.6" width="6.8" height="6.8" fill="#ffffff" fill-opacity="0.64"/>
<rect x="562.6" y="74.9" width="6.8" height="6.8" fill="#5cc0e8" fill-opacity="0.95"/>
<rect x="585.9" y="74.9" width="6.8" height="6.8" fill="#5cc0e8" fill-opacity="0.95"/>
<rect x="609.3" y="74.9" width="6.8" height="6.8" fill="#ffffff" fill-opacity="0.64"/>
<rect x="578.3" y="82.6" width="6.8" height="6.8" fill="#5cc0e8" fill-opacity="0.95"/>
<rect x="604.9" y="99.9" width="6.8" height="6.8" fill="#5cc0e8" fill-opacity="0.95"/>
<rect x="596.6" y="114.9" width="6.8" height="6.8" fill="#5cc0e8" fill-opacity="0.95"/>
<rect x="604.9" y="114.9" width="6.8" height="6.8" fill="#a3b8cf" fill-opacity="0.88"/>
<rect x="540.6" y="122.6" width="6.8" height="6.8" fill="#5cc0e8" fill-opacity="0.95"/>
<rect x="564.9" y="122.6" width="6.8" height="6.8" fill="#5cc0e8" fill-opacity="0.95"/>
<rect x="581.6" y="122.6" width="6.8" height="6.8" fill="#5cc0e8" fill-opacity="0.95"/>
<rect x="596.6" y="129.9" width="6.8" height="6.8" fill="#5cc0e8" fill-opacity="0.95"/>
<rect x="533.3" y="138.3" width="6.8" height="6.8" fill="#5cc0e8" fill-opacity="0.95"/>
<rect x="556.6" y="138.3" width="6.8" height="6.8" fill="#5cc0e8" fill-opacity="0.95"/>
<rect x="564.9" y="138.3" width="6.8" height="6.8" fill="#5cc0e8" fill-opacity="0.95"/>
<rect x="581.6" y="138.3" width="6.8" height="6.8" fill="#5cc0e8" fill-opacity="0.95"/>
<rect x="589.9" y="138.3" width="6.8" height="6.8" fill="#a3b8cf" fill-opacity="0.88"/>
<rect x="548.3" y="145.9" width="6.8" height="6.8" fill="#5cc0e8" fill-opacity="0.95"/>
<rect x="556.6" y="145.9" width="6.8" height="6.8" fill="#5cc0e8" fill-opacity="0.95"/>
<rect x="589.9" y="145.9" width="6.8" height="6.8" fill="#5cc0e8" fill-opacity="0.95"/>
<rect x="598.3" y="145.9" width="6.8" height="6.8" fill="#5cc0e8" fill-opacity="0.95"/>
<rect x="556.6" y="153.3" width="6.8" height="6.8" fill="#5cc0e8" fill-opacity="0.95"/>
<rect x="573.3" y="153.3" width="6.8" height="6.8" fill="#ffffff" fill-opacity="0.64"/>
<rect x="589.9" y="153.3" width="6.8" height="6.8" fill="#5cc0e8" fill-opacity="0.95"/>
<rect x="604.9" y="153.3" width="6.8" height="6.8" fill="#ffffff" fill-opacity="0.64"/>
<rect x="573.3" y="161.6" width="6.8" height="6.8" fill="#ffffff" fill-opacity="0.64"/>
<rect x="581.6" y="161.6" width="6.8" height="6.8" fill="#ffffff" fill-opacity="0.64"/>
<rect x="596.6" y="161.6" width="6.8" height="6.8" fill="#ffffff" fill-opacity="0.64"/>
<rect x="604.9" y="161.6" width="6.8" height="6.8" fill="#ffffff" fill-opacity="0.64"/>
<rect x="581.6" y="169.9" width="6.8" height="6.8" fill="#ffffff" fill-opacity="0.64"/>
<rect x="589.9" y="169.9" width="6.8" height="6.8" fill="#ffffff" fill-opacity="0.64"/>
<rect x="604.9" y="169.9" width="6.8" height="6.8" fill="#ffffff" fill-opacity="0.64"/>
<rect x="613.3" y="169.9" width="6.8" height="6.8" fill="#ffffff" fill-opacity="0.64"/>
<rect x="573.3" y="178.3" width="6.8" height="6.8" fill="#ffffff" fill-opacity="0.64"/>
<rect x="613.3" y="178.3" width="6.8" height="6.8" fill="#ffffff" fill-opacity="0.64"/>
<rect x="623.3" y="178.3" width="6.8" height="6.8" fill="#ffffff" fill-opacity="0.64"/>
<rect x="178" y="404.5" width="683" height="11.7" rx="5.85" fill="#4d89ce"/>
<rect x="180" y="406.6" width="679" height="7.8" rx="3.9" fill="#2f5488"/>
<path d="M190.9,406.6 L194.0,410.5 L190.9,414.4 M204.0,406.6 L207.1,410.5 L204.0,414.4 M217.1,406.6 L220.2,410.5 L217.1,414.4 M230.1,406.6 L233.2,410.5 L230.1,414.4 M243.2,406.6 L246.3,410.5 L243.2,414.4 M256.3,406.6 L259.4,410.5 L256.3,414.4 M269.4,406.6 L272.5,410.5 L269.4,414.4 M282.5,406.6 L285.6,410.5 L282.5,414.4 M295.5,406.6 L298.6,410.5 L295.5,414.4 M308.6,406.6 L311.7,410.5 L308.6,414.4 M321.7,406.6 L324.8,410.5 L321.7,414.4 M334.8,406.6 L337.9,410.5 L334.8,414.4 M347.9,406.6 L351.0,410.5 L347.9,414.4 M360.9,406.6 L364.0,410.5 L360.9,414.4 M374.0,406.6 L377.1,410.5 L374.0,414.4 M387.1,406.6 L390.2,410.5 L387.1,414.4 M400.2,406.6 L403.3,410.5 L400.2,414.4 M413.3,406.6 L416.4,410.5 L413.3,414.4 M426.3,406.6 L429.4,410.5 L426.3,414.4 M439.4,406.6 L442.5,410.5 L439.4,414.4 M452.5,406.6 L455.6,410.5 L452.5,414.4 M465.6,406.6 L468.7,410.5 L465.6,414.4 M478.7,406.6 L481.8,410.5 L478.7,414.4 M491.7,406.6 L494.8,410.5 L491.7,414.4 M504.8,406.6 L507.9,410.5 L504.8,414.4 M517.9,406.6 L521.0,410.5 L517.9,414.4 M531.0,406.6 L534.1,410.5 L531.0,414.4 M544.1,406.6 L547.2,410.5 L544.1,414.4 M557.1,406.6 L560.2,410.5 L557.1,414.4 M570.2,406.6 L573.3,410.5 L570.2,414.4 M583.3,406.6 L586.4,410.5 L583.3,414.4 M596.4,406.6 L599.5,410.5 L596.4,414.4 M609.5,406.6 L612.6,410.5 L609.5,414.4 M622.5,406.6 L625.6,410.5 L622.5,414.4 M635.6,406.6 L638.7,410.5 L635.6,414.4 M648.7,406.6 L651.8,410.5 L648.7,414.4 M661.8,406.6 L664.9,410.5 L661.8,414.4 M674.9,406.6 L678.0,410.5 L674.9,414.4 M687.9,406.6 L691.0,410.5 L687.9,414.4 M701.0,406.6 L704.1,410.5 L701.0,414.4 M714.1,406.6 L717.2,410.5 L714.1,414.4 M727.2,406.6 L730.3,410.5 L727.2,414.4 M740.3,406.6 L743.4,410.5 L740.3,414.4 M753.3,406.6 L756.4,410.5 L753.3,414.4 M766.4,406.6 L769.5,410.5 L766.4,414.4 M779.5,406.6 L782.6,410.5 L779.5,414.4 M792.6,406.6 L795.7,410.5 L792.6,414.4 M805.7,406.6 L808.8,410.5 L805.7,414.4 M818.7,406.6 L821.8,410.5 L818.7,414.4 M831.8,406.6 L834.9,410.5 L831.8,414.4 M844.9,406.6 L848.0,410.5 L844.9,414.4" fill="none" stroke="#4a7ec6" stroke-width="1.1"/>
<rect x="204.20" y="371.60" width="25.50" height="32.80" fill="#efab35" />
<rect x="229.70" y="371.60" width="14.50" height="32.80" fill="#ecc540" />
<polygon points="200.8,370.6 226.7,370.6 229.7,377.6 204.2,377.6" fill="#efab35"/>
<polygon points="226.7,370.6 248,370.6 244.2,377.6 229.7,377.6" fill="#ecc540"/>
<path d="M220.7,370.6 Q227.7,369.1 229.7,377.6 L220.7,377.6 Z" fill="#efab35"/>
<rect x="267.00" y="321.00" width="65.30" height="58.40" fill="#4d89ce" />
<rect x="267.00" y="379.40" width="65.30" height="12.60" fill="#3a6fb2" />
<rect x="267.00" y="392.00" width="19.00" height="12.60" fill="#3a6fb2" />
<rect x="267.00" y="321.00" width="2.00" height="83.60" fill="#467bc5" />
<rect x="272.70" y="330.70" width="22.10" height="39.50" fill="#1d4697" />
<rect x="304.80" y="330.70" width="22.50" height="39.50" fill="#1d4697" />
<clipPath id="w1"><rect x="272.7" y="330.7" width="22.1" height="39.5"/></clipPath>
<clipPath id="w2"><rect x="304.8" y="330.7" width="22.5" height="39.5"/></clipPath>
<g clip-path="url(#w1)"><polygon points="272.7,330.7 283.5,330.7 272.7,342" fill="#4177c8"/><polygon points="294.8,361 294.8,370.2 288,370.2" fill="#3f74c6"/><path d="M272.7,349 L289.5,330.7 M282,370.5 L295,357.5" stroke="#4d89ce" stroke-width="1.4" fill="none"/></g>
<g clip-path="url(#w2)"><path d="M304,352.5 L319.5,330" stroke="#4a80cc" stroke-width="3.4" fill="none"/><polygon points="327.3,361 327.3,370.2 321,370.2" fill="#3f74c6"/><path d="M304.8,359.8 L327.5,334.5 M313.5,370.5 L327.5,356" stroke="#4d89ce" stroke-width="1.4" fill="none"/></g>
<line x1="300.8" y1="321" x2="300.8" y2="379.4" stroke="#6da2de" stroke-width="0.8"/>
<rect x="293.20" y="371.50" width="1.20" height="5.00" fill="#3a6fb2" />
<rect x="305.50" y="371.50" width="1.20" height="5.00" fill="#3a6fb2" />
<rect x="273.00" y="381.00" width="12.50" height="22.50" fill="#2f5488" />
<rect x="275.00" y="384.00" width="8.50" height="2.60" fill="#416fb0" />
<rect x="275.00" y="389.00" width="8.50" height="2.60" fill="#416fb0" />
<rect x="275.00" y="394.00" width="8.50" height="2.60" fill="#416fb0" />
<rect x="275.00" y="399.00" width="8.50" height="2.60" fill="#416fb0" />
<path d="M295,392 v3 a7,7 0 0 0 14,0 v-3" fill="none" stroke="#5f95d6" stroke-width="1"/>
<rect x="332.30" y="321.00" width="39.30" height="19.00" fill="#7fb0e5" />
<rect x="371.60" y="321.00" width="64.80" height="58.40" fill="#4d89ce" />
<rect x="376.70" y="328.20" width="43.00" height="1.60" fill="#3a6fb2" />
<rect x="376.70" y="333.20" width="25.30" height="1.60" fill="#3a6fb2" />
<rect x="376.67" y="349.00" width="6.00" height="28.50" fill="#2f5488" />
<rect x="378.87" y="352.00" width="1.60" height="23.00" fill="#3e78c0" />
<rect x="386.39" y="349.00" width="6.00" height="28.50" fill="#2f5488" />
<rect x="388.59" y="352.00" width="1.60" height="23.00" fill="#3e78c0" />
<rect x="395.28" y="349.00" width="6.00" height="28.50" fill="#2f5488" />
<rect x="397.48" y="352.00" width="1.60" height="23.00" fill="#3e78c0" />
<rect x="405.28" y="349.00" width="6.00" height="28.50" fill="#2f5488" />
<rect x="407.48" y="352.00" width="1.60" height="23.00" fill="#3e78c0" />
<rect x="415.00" y="349.00" width="6.00" height="28.50" fill="#2f5488" />
<rect x="417.20" y="352.00" width="1.60" height="23.00" fill="#3e78c0" />
<rect x="424.44" y="349.00" width="6.00" height="28.50" fill="#2f5488" />
<rect x="426.64" y="352.00" width="1.60" height="23.00" fill="#3e78c0" />
<rect x="378.47" y="356.76" width="2.40" height="2.40" fill="#f08a2a" />
<rect x="378.47" y="362.88" width="2.40" height="2.40" fill="#f08a2a" />
<rect x="388.19" y="359.40" width="2.40" height="2.40" fill="#f08a2a" />
<rect x="388.19" y="364.08" width="2.40" height="2.40" fill="#f08a2a" />
<rect x="397.08" y="364.51" width="2.40" height="2.40" fill="#f08a2a" />
<rect x="397.08" y="353.31" width="2.40" height="2.40" fill="#f08a2a" />
<rect x="407.08" y="352.26" width="2.40" height="2.40" fill="#f08a2a" />
<rect x="407.08" y="368.75" width="2.40" height="2.40" fill="#f08a2a" />
<rect x="416.80" y="357.19" width="2.40" height="2.40" fill="#f08a2a" />
<rect x="416.80" y="356.69" width="2.40" height="2.40" fill="#f08a2a" />
<rect x="426.24" y="371.91" width="2.40" height="2.40" fill="#f08a2a" />
<rect x="426.24" y="361.41" width="2.40" height="2.40" fill="#f08a2a" />
<rect x="267.00" y="404.40" width="169.40" height="51.40" fill="#3a6fb2" />
<rect x="267.00" y="404.40" width="169.40" height="5.60" fill="#4d89ce" />
<rect x="430.80" y="404.40" width="5.60" height="51.40" fill="#4d89ce" />
<rect x="267.00" y="404.40" width="2.00" height="51.40" fill="#467bc5" />
<rect x="312.80" y="410.00" width="77.70" height="14.00" fill="#467cc4" />
<rect x="272.50" y="410.50" width="25.00" height="23.90" fill="#2f5488" />
<rect x="275.00" y="412.50" width="6.50" height="2.50" fill="#3e9be0" />
<rect x="283.50" y="412.50" width="7.00" height="2.50" fill="#3e9be0" />
<rect x="276.50" y="412.00" width="2.50" height="2.00" fill="#f08a2a" />
<rect x="288.00" y="412.50" width="4.00" height="2.00" fill="#f08a2a" />
<rect x="275.00" y="417.50" width="7.00" height="2.00" fill="#3e9be0" />
<rect x="284.00" y="417.50" width="8.00" height="2.00" fill="#3e9be0" />
<rect x="279.00" y="416.50" width="2.50" height="2.00" fill="#f08a2a" />
<rect x="273.30" y="439.00" width="43.70" height="16.80" fill="#2f5488" />
<rect x="317.00" y="439.00" width="11.00" height="16.80" fill="#4a7fca" />
<path d="M305,410 v14 a9,9 0 0 0 9,9 h22 a9,9 0 0 0 9,-9 v-14 M331,410 v26 a9.5,9.5 0 0 0 19,0 v-26 M395,410 v10 a6,6 0 0 0 12,0 v-10 M401,410 v14 a7,7 0 0 0 14,0 v-14" fill="none" stroke="#5f95d6" stroke-width="0.9"/>
<path d="M405.8,424 h23.2 v3 a11.6,11 0 0 1 -23.2,0 Z" fill="#2f5488"/>
<line x1="417.4" y1="437" x2="417.4" y2="455.8" stroke="#2f5488" stroke-width="0.9"/>
<rect x="332.80" y="371.60" width="25.00" height="32.80" fill="#efab35" />
<rect x="357.80" y="371.60" width="14.70" height="32.80" fill="#ecc540" />
<polygon points="328.9,370.6 354.8,370.6 357.8,377.6 332.8,377.6" fill="#efab35"/>
<polygon points="354.8,370.6 375.8,370.6 372.5,377.6 357.8,377.6" fill="#ecc540"/>
<path d="M348.8,370.6 Q355.8,369.1 357.8,377.6 L348.8,377.6 Z" fill="#efab35"/>
<rect x="404.40" y="371.60" width="24.20" height="32.80" fill="#efab35" />
<rect x="428.60" y="371.60" width="14.70" height="32.80" fill="#ecc540" />
<polygon points="401,370.6 425.6,370.6 428.6,377.6 404.4,377.6" fill="#efab35"/>
<polygon points="425.6,370.6 446.7,370.6 443.3,377.6 428.6,377.6" fill="#ecc540"/>
<path d="M419.6,370.6 Q426.6,369.1 428.6,377.6 L419.6,377.6 Z" fill="#efab35"/>
<circle cx="297" cy="243.8" r="3.15" fill="#6166b6"/>
<path d="M291.49,238.01 A7.3,7.3 0 0 1 302.51,238.01" fill="none" stroke="#6166b6" stroke-width="2.4" stroke-linecap="round"/>
<path d="M288.09,235.06 A11.8,11.8 0 0 1 305.91,235.06" fill="none" stroke="#6166b6" stroke-width="2.4" stroke-linecap="round"/>
<path d="M284.62,232.04 A16.4,16.4 0 0 1 309.38,232.04" fill="none" stroke="#6166b6" stroke-width="2.4" stroke-linecap="round"/>
<path d="M277.3,250.4 h39.7 q-1,5.6 -6,5.6 h-27.7 q-5,0 -6,-5.6 Z" fill="#2f5488"/>
<path d="M283,256 h28 q0,10 -9,10 h-10 q-9,0 -9,-10 Z" fill="#5b9bd8"/>
<rect x="292.00" y="266.00" width="11.00" height="6.00" fill="#2f5488" />
<line x1="297" y1="297" x2="311.5" y2="311.5" stroke="#4580c8" stroke-width="15" stroke-linecap="round"/>
<line x1="297.2" y1="278.5" x2="297.2" y2="297" stroke="#4d89ce" stroke-width="17.2" stroke-linecap="round"/>
<circle cx="297.2" cy="279" r="4.8" fill="#2f5488"/><circle cx="297.2" cy="297" r="4.8" fill="#2f5488"/>
<circle cx="311.5" cy="311.5" r="4" fill="#2f5488"/>
<rect x="317.00" y="308.30" width="4.00" height="6.40" fill="#2f5488" />
<rect x="320" y="305.5" width="6" height="12" rx="2.5" fill="#5b9bd8"/>
<rect x="325.5" y="307.5" width="4.5" height="8" rx="1.5" fill="#4d89ce"/>
<rect x="329.50" y="308.20" width="19.50" height="1.20" fill="#4d89ce" />
<rect x="329.50" y="313.60" width="19.50" height="1.20" fill="#4d89ce" />
<rect x="331.00" y="310.20" width="17.00" height="2.60" fill="#2f5488" />
<circle cx="351.6" cy="311.5" r="3.6" fill="#4d89ce"/><circle cx="351.6" cy="311.5" r="2" fill="#2f5488"/>
<rect x="350.30" y="314.50" width="2.60" height="11.50" fill="#4d89ce" />
<path d="M343.3,338 v-6 a8,7 0 0 1 16,0 v6 h-3.5 v-3 h-9 v3 Z" fill="#4f8bd0"/>
<path d="M345.5,334 a6,5.5 0 0 1 11.6,0 Z" fill="#a9cbef"/>
<rect x="345.00" y="336.00" width="12.60" height="2.20" fill="#2f5488" />
<rect x="349.30" y="338.20" width="4.20" height="2.80" fill="#4d89ce" />
<ellipse cx="351.4" cy="346" rx="4.9" ry="5.6" fill="#4d89ce"/>
<rect x="348.60" y="350.50" width="5.60" height="1.80" fill="#2f5488" />
<polygon points="349.4,352.3 353.4,352.3 352.3,357 351.6,361.5 350.6,357" fill="#2f5488"/>
<rect x="478.00" y="371.60" width="21.40" height="32.80" fill="#efab35" />
<rect x="499.40" y="371.60" width="14.40" height="32.80" fill="#ecc540" />
<polygon points="474,370.6 496.4,370.6 499.4,377.6 478,377.6" fill="#efab35"/>
<polygon points="496.4,370.6 517.4,370.6 513.8,377.6 499.4,377.6" fill="#ecc540"/>
<path d="M490.4,370.6 Q497.4,369.1 499.4,377.6 L490.4,377.6 Z" fill="#efab35"/>
<path d="M466.4,455 v-4 a8,8 0 0 1 8,-8 h24.6 a8,8 0 0 1 8,8 v4 Z" fill="#5b9bd8"/>
<path d="M453.5,368 q-4,8 -3.5,17 q1,5 3.5,7 l2,-20 Z" fill="#20499a"/>
<path d="M455,405 L456,420 L457.5,452 L463.5,452 L465,424 L466,410 Z" fill="#20499a"/>
<path d="M462,405 L477,402 Q484,408 484,416 L485.5,441 L480.5,441.5 L477.5,418 L466,414 Z" fill="#20499a"/>
<path d="M457,452 h7 l3,2.5 h-10 Z" fill="#2b2b50"/><path d="M480.5,440.8 h5 l3.5,2.3 h-8.5 Z" fill="#2b2b50"/>
<path d="M456,365 Q461,362.5 470,364 Q474,372 475.5,384 Q477,395 476.5,403 Q470,409 455,408.5 Q452.5,395 453,382 Q453.5,371 456,365 Z" fill="#ee8a2b"/>
<path d="M468.5,366 Q472.5,366 474,371 L478.5,381 L492,381.2 L492,385.2 L476,386 Q473.5,386 472.5,383.5 L467.5,371 Z" fill="#20499a"/>
<path d="M491.5,381 q3,-0.8 5.5,0.8 q1,2 -1,3.2 l-4.5,0.3 Z" fill="#f08aa0"/>
<path d="M461.5,355 h7.5 v6.5 q-1,3 -4,3 h-3 Z" fill="#2b3a80"/>
<path d="M466,355 h3.5 l0.8,4 l-0.8,1 v2 q-1.5,1.5 -3.5,1 Z" fill="#e9638f"/>
<path d="M459.8,354.8 a5.6,5.6 0 0 1 11.2,-0.6 l1.3,0.9 l-1.5,0.8 h-11 Z" fill="#f0922b"/>
<path d="M568.3,322 V305 Q568.3,291.3 582,291.3 H626 Q636.5,291.3 640.5,300.5 Q644.5,309.6 655,309.6 H685 Q694.5,309.6 698,315.5 L701.5,322" fill="none" stroke="#4a86d0" stroke-width="12.6"/>
<path d="M568.3,322 V305 Q568.3,291.3 582,291.3 H626 Q636.5,291.3 640.5,300.5 Q644.5,309.6 655,309.6 H685 Q694.5,309.6 698,315.5 L701.5,322" fill="none" stroke="#3f78c4" stroke-width="12.6" stroke-dasharray="0.9 1.5"/>
<path d="M560.5,322 q1.5,-3 1.5,-6 h12.6 q0,3 1.5,6 Z M694,322 l1.5,-5 l9,3 l2,2 Z" fill="#4a86d0"/>
<circle cx="669.6" cy="294.6" r="3.15" fill="#6166b6"/>
<path d="M664.09,288.81 A7.3,7.3 0 0 1 675.11,288.81" fill="none" stroke="#6166b6" stroke-width="2.4" stroke-linecap="round"/>
<path d="M660.69,285.86 A11.8,11.8 0 0 1 678.51,285.86" fill="none" stroke="#6166b6" stroke-width="2.4" stroke-linecap="round"/>
<path d="M657.22,282.84 A16.4,16.4 0 0 1 681.98,282.84" fill="none" stroke="#6166b6" stroke-width="2.4" stroke-linecap="round"/>
<rect x="534.80" y="321.00" width="193.60" height="133.80" fill="#467bc5" />
<rect x="600.00" y="321.00" width="63.30" height="133.80" fill="#4d89ce" />
<rect x="534.80" y="349.80" width="193.60" height="1.00" fill="#4273bc" />
<rect x="600.00" y="349.80" width="63.30" height="1.00" fill="#4880c6" />
<rect x="545.00" y="328.30" width="43.00" height="1.40" fill="#5a90d8" />
<rect x="545.00" y="333.60" width="26.00" height="1.40" fill="#5a90d8" />
<rect x="610.50" y="327.80" width="42.50" height="2.50" fill="#ffffff" />
<rect x="610.50" y="333.20" width="25.50" height="2.50" fill="#ffffff" />
<rect x="674.00" y="328.30" width="43.00" height="1.40" fill="#3a69b0" />
<rect x="674.00" y="333.60" width="26.00" height="1.40" fill="#3a69b0" />
<rect x="544.00" y="355.50" width="14.00" height="47.20" fill="#3a6aaa" />
<rect x="560.50" y="355.50" width="14.00" height="47.20" fill="#ecc540" />
<rect x="576.30" y="355.50" width="14.10" height="47.20" fill="#4d89ce" />
<rect x="548.50" y="364.00" width="5.00" height="29.50" fill="#2f64b0" />
<rect x="549.50" y="365.00" width="2.60" height="3.20" fill="#f08a2a" />
<rect x="550.70" y="371.00" width="2.60" height="3.20" fill="#3e9be0" />
<rect x="549.50" y="377.00" width="2.60" height="3.20" fill="#f08a2a" />
<rect x="550.70" y="383.00" width="2.60" height="3.20" fill="#3e9be0" />
<rect x="549.50" y="389.00" width="2.60" height="3.20" fill="#f08a2a" />
<rect x="565.00" y="364.00" width="5.00" height="29.50" fill="#3b78c8" />
<rect x="566.00" y="365.00" width="2.60" height="3.20" fill="#f08a2a" />
<rect x="567.20" y="371.00" width="2.60" height="3.20" fill="#3e9be0" />
<rect x="566.00" y="377.00" width="2.60" height="3.20" fill="#f08a2a" />
<rect x="567.20" y="383.00" width="2.60" height="3.20" fill="#3e9be0" />
<rect x="566.00" y="389.00" width="2.60" height="3.20" fill="#f08a2a" />
<rect x="581.00" y="364.00" width="5.00" height="29.50" fill="#2f64b0" />
<rect x="582.00" y="365.00" width="2.60" height="3.20" fill="#f08a2a" />
<rect x="583.20" y="371.00" width="2.60" height="3.20" fill="#3e9be0" />
<rect x="582.00" y="377.00" width="2.60" height="3.20" fill="#f08a2a" />
<rect x="583.20" y="383.00" width="2.60" height="3.20" fill="#3e9be0" />
<rect x="582.00" y="389.00" width="2.60" height="3.20" fill="#f08a2a" />
<rect x="609.00" y="355.50" width="44.00" height="38.50" fill="#2f5488" />
<rect x="617.90" y="372.80" width="5.90" height="16.20" fill="#ffffff" />
<rect x="625.60" y="378.40" width="6.00" height="10.60" fill="#ffffff" />
<rect x="633.30" y="366.80" width="6.00" height="22.20" fill="#ffffff" />
<rect x="640.70" y="361.50" width="5.50" height="27.50" fill="#ffffff" />
<rect x="673.8" y="356" width="45" height="46" fill="#4a80c8" stroke="#5a90d6" stroke-width="0.8"/>
<rect x="675.50" y="358.00" width="4.00" height="4.00" fill="#5a90d6" />
<rect x="675.50" y="396.00" width="4.00" height="4.00" fill="#5a90d6" />
<rect x="713.00" y="376.00" width="4.00" height="6.00" fill="#5a90d6" />
<rect x="544" y="409.5" width="46" height="46" fill="none" stroke="#5388d0" stroke-width="0.8"/>
<rect x="673.8" y="409.5" width="45" height="46" fill="none" stroke="#5388d0" stroke-width="0.8"/>
<rect x="610" y="410" width="43.5" height="16" fill="#4d89ce" stroke="#3f73ba" stroke-width="0.9"/>
<circle cx="631.6" cy="418" r="6" fill="#4278c2"/>
<rect x="609.00" y="439.00" width="44.80" height="15.80" fill="#3a6aaa" />
<rect x="728.40" y="378.00" width="24.10" height="26.40" fill="#efab35" />
<rect x="752.50" y="378.00" width="14.00" height="26.40" fill="#ecc540" />
<rect x="798.00" y="378.00" width="26.50" height="26.40" fill="#efab35" />
<rect x="824.50" y="378.00" width="13.50" height="26.40" fill="#ecc540" />
<circle cx="86.7" cy="322.5" r="3.15" fill="#6166b6"/>
<path d="M81.19,316.71 A7.3,7.3 0 0 1 92.21,316.71" fill="none" stroke="#6166b6" stroke-width="2.4" stroke-linecap="round"/>
<path d="M77.79,313.76 A11.8,11.8 0 0 1 95.61,313.76" fill="none" stroke="#6166b6" stroke-width="2.4" stroke-linecap="round"/>
<path d="M74.32,310.74 A16.4,16.4 0 0 1 99.08,310.74" fill="none" stroke="#6166b6" stroke-width="2.4" stroke-linecap="round"/>
<rect x="38.5" y="331.0" width="45" height="29.5" rx="1.5" fill="#1f4fa2" stroke="#6c6ec8" stroke-width="1"/>
<rect x="89.5" y="331.0" width="46" height="29.5" rx="1.5" fill="#1f4fa2" stroke="#6c6ec8" stroke-width="1"/>
<rect x="38.5" y="366.5" width="45" height="30" rx="1.5" fill="#2a8fd6" stroke="#6c6ec8" stroke-width="1"/>
<rect x="89.5" y="366.5" width="46" height="30" rx="1.5" fill="#1f4fa2" stroke="#6c6ec8" stroke-width="1"/>
<rect x="52.00" y="335.00" width="17.20" height="8.00" fill="#fff" />
<path d="M60.6,343 v8 M48,351.3 v-3.5 h26.5 v3.5" fill="none" stroke="#3e90dd" stroke-width="0.8"/>
<rect x="42.50" y="351.30" width="10.50" height="4.50" fill="#fff" />
<rect x="56.5" y="351.6" width="8.5" height="4" rx="1" fill="none" stroke="#3e90dd" stroke-width="0.8"/>
<rect x="69" y="351.6" width="10" height="4" rx="1" fill="none" stroke="#3e90dd" stroke-width="0.8"/>
<path d="M94.2,342.5 H105 L108.3,346.7 L115,339.5 H130.8 M128.3,337 L130.8,339.5 L128.3,342" fill="none" stroke="#e8eef8" stroke-width="0.8"/>
<polygon points="94.7,353.5 96.7,351.5 98.7,353.5 96.7,355.5" fill="#fff"/>
<polygon points="114.7,353.5 116.7,351.5 118.7,353.5 116.7,355.5" fill="#fff"/>
<rect x="100.50" y="352.00" width="10.30" height="3.30" fill="#3a9fe2" />
<rect x="120.80" y="352.00" width="10.00" height="3.30" fill="#3a9fe2" />
<rect x="42.40" y="378.00" width="17.80" height="8.00" fill="#fff" />
<rect x="69.50" y="369.80" width="10.20" height="4.70" fill="#fff" />
<path d="M63,372 h6 M63,372 v20 h3 M66,378 h12 v4 h-12 Z M66,385 h12 v4 h-12 Z M66,390.5 h12 v3 h-12 Z" fill="none" stroke="#62b4ee" stroke-width="0.7"/>
<line x1="100" y1="370" x2="100" y2="394" stroke="#4a8fe0" stroke-width="0.8"/>
<line x1="106" y1="370" x2="106" y2="394" stroke="#4a8fe0" stroke-width="0.8"/>
<line x1="112.7" y1="370" x2="112.7" y2="394" stroke="#4a8fe0" stroke-width="0.8"/>
<line x1="118.9" y1="370" x2="118.9" y2="394" stroke="#4a8fe0" stroke-width="0.8"/>
<line x1="125" y1="370" x2="125" y2="394" stroke="#4a8fe0" stroke-width="0.8"/>
<circle cx="100" cy="390.8" r="1.8" fill="#fff"/>
<circle cx="106" cy="378.7" r="1.8" fill="#fff"/>
<circle cx="112.7" cy="382.6" r="1.8" fill="#fff"/>
<circle cx="118.9" cy="373.4" r="1.8" fill="#fff"/>
<rect x="39.40" y="404.60" width="94.60" height="42.20" fill="#4d89ce" />
<rect x="39.40" y="404.60" width="94.60" height="4.40" fill="#4a84ca" />
<path d="M40.5,410 h30.5 v36 M40.5,420.5 h30.5 M40.5,430 h30.5 M101.5,410 v36.5 M71,410 h62" fill="none" stroke="#6298d8" stroke-width="0.8"/>
<rect x="53.00" y="414.50" width="6.50" height="1.60" fill="#9a90d2" />
<rect x="53.00" y="425.00" width="6.50" height="1.60" fill="#9a90d2" />
<rect x="53.00" y="436.00" width="6.50" height="1.60" fill="#9a90d2" />
<circle cx="48.5" cy="451.3" r="2.5" fill="#4d89ce"/><circle cx="124.6" cy="451.3" r="2.5" fill="#4d89ce"/>
<rect x="47.80" y="446.80" width="1.40" height="2.20" fill="#4d89ce" />
<rect x="123.90" y="446.80" width="1.40" height="2.20" fill="#4d89ce" />
<path d="M128,414.5 L108,414.5 Q103.5,415 103.3,420 L100.8,452 L105.8,452 L110.5,424.5 L116,426 L116,452 L121,452 L121.5,427 L130,427 Z" fill="#20499a"/>
<path d="M100.6,451.5 h5.4 v3 h-8.6 Z" fill="#2b2b50"/><path d="M115.8,451.5 h5.4 v3 h-8.6 Z" fill="#2b2b50"/>
<path d="M126.5,381 Q130,378.5 135,378.5 L146.5,380.5 L146.5,412 L128.5,413 Q128,398 126.5,381 Z" fill="#ee8a2b"/>
<path d="M124.2,380.6 Q127.5,380 128,383 L126.8,400 Q126.3,404.2 122.5,404.4 L106,404.3 L106,401 L119.3,399.6 L121,385 Q121.5,381.5 124.2,380.6 Z" fill="#20499a"/>
<path d="M106.2,400.8 q-2.5,0 -3.2,1.2 q0.7,1.6 3.2,2.3 Z" fill="#f08aa0"/>
<path d="M129,369.5 h8.2 v6 q-1,3.5 -4.2,3.5 q-3.5,0 -4,-3.5 Z" fill="#3a3460"/>
<path d="M127.6,370.4 a5.3,5.7 0 0 1 10.6,0 l1.2,0.6 l-0.6,0.9 h-11.2 Z" fill="#f0922b"/>
<path d="M136.5,391.8 H150 Q153.3,391.8 152.8,395.5 L147.8,426.4 H116 Q116,421.4 121,421.4 H127 L131.5,395.5 Q132.3,391.8 136.5,391.8 Z" fill="#4d89ce"/>
<circle cx="878.4" cy="346.7" r="3.15" fill="#6166b6"/>
<path d="M872.89,340.91 A7.3,7.3 0 0 1 883.91,340.91" fill="none" stroke="#6166b6" stroke-width="2.4" stroke-linecap="round"/>
<path d="M869.49,337.96 A11.8,11.8 0 0 1 887.31,337.96" fill="none" stroke="#6166b6" stroke-width="2.4" stroke-linecap="round"/>
<path d="M866.02,334.94 A16.4,16.4 0 0 1 890.78,334.94" fill="none" stroke="#6166b6" stroke-width="2.4" stroke-linecap="round"/>
<rect x="856.7" y="355.7" width="44" height="28.4" rx="1.5" fill="#2f5488" stroke="#4d89ce" stroke-width="1.5"/>
<line x1="866" y1="359" x2="866" y2="381" stroke="#4f86cc" stroke-width="0.7"/>
<line x1="870.5" y1="359" x2="870.5" y2="381" stroke="#4f86cc" stroke-width="0.7"/>
<line x1="875" y1="359" x2="875" y2="381" stroke="#4f86cc" stroke-width="0.7"/>
<line x1="879.5" y1="359" x2="879.5" y2="381" stroke="#4f86cc" stroke-width="0.7"/>
<line x1="884" y1="359" x2="884" y2="381" stroke="#4f86cc" stroke-width="0.7"/>
<line x1="888.5" y1="359" x2="888.5" y2="381" stroke="#4f86cc" stroke-width="0.7"/>
<circle cx="871.5" cy="361.3" r="1.7" fill="#fff"/>
<circle cx="883.8" cy="366.8" r="1.7" fill="#fff"/>
<circle cx="866" cy="373.5" r="1.7" fill="#fff"/>
<circle cx="878.2" cy="370.5" r="1.7" fill="#fff"/>
<circle cx="890" cy="378" r="1.7" fill="#fff"/>
<rect x="875.80" y="384.80" width="5.20" height="55.20" fill="#4d89ce" />
<rect x="875.80" y="400.00" width="33.20" height="7.00" fill="#4d89ce" />
<path d="M885,407 v16 a3,3 0 0 0 6,0 v-16 M893,407 v10 q0,6 5,2 q5,-6 7,-12" fill="none" stroke="#6aa0e0" stroke-width="0.8"/>
<rect x="881.00" y="413.80" width="19.00" height="18.20" fill="#3a6aaa" />
<rect x="856.80" y="439.00" width="43.20" height="6.70" fill="#4d89ce" />
<circle cx="860.7" cy="451" r="3.4" fill="#4d89ce"/>
<rect x="859.70" y="445.00" width="2.00" height="4.00" fill="#4d89ce" />
<circle cx="878.4" cy="451" r="3.4" fill="#4d89ce"/>
<rect x="877.40" y="445.00" width="2.00" height="4.00" fill="#4d89ce" />
<circle cx="895.2" cy="451" r="3.4" fill="#4d89ce"/>
<rect x="894.20" y="445.00" width="2.00" height="4.00" fill="#4d89ce" />
<path d="M909.6,398 Q905.6,411 906.3,423 L913,451.5 L917.8,451.5 L916.8,426 L919.2,410 L918.4,398 Z" fill="#20499a"/>
<path d="M915,398 L928.9,398 L927.2,425 L925.1,451.5 L919.8,451.5 L918.8,418 Z" fill="#20499a"/>
<path d="M913,451 h5 v3.3 h-7.5 Z" fill="#2b2b50"/><path d="M919.8,451 h5.3 v3.3 h-8 Z" fill="#2b2b50"/>
<path d="M915.5,364 Q922,362 928.5,366 Q930.8,380 930.5,399 L911.5,399.5 Q912,380 915.5,364 Z" fill="#ee8a2b"/>
<path d="M913.5,355 h7 q2,5 7,6.5 q2.5,0.8 3,2.8 q-2,3 -7,2.5 q-5,-1 -7.5,-5 Z" fill="#2b2b6a"/>
<path d="M913,356 h3.5 v7 q-2,1.5 -3.8,0 Z" fill="#a85a3a"/>
<path d="M910.6,354.6 a5.6,5.8 0 0 1 11.2,0 l-0.3,1.2 h-11.8 l-1.4,-0.8 Z" fill="#f0922b"/>
<path d="M916.5,368 Q920.5,367 921.5,371 Q921.5,381 918,389.5 L913.5,388 Q914.5,378 916.5,368 Z" fill="#20499a"/>
<path d="M913.5,387.5 L918,389.5 Q913,395.5 905,397.5 L899.5,398.5 Q897.5,397 899,395.5 L906,394 Q911,392 913.5,387.5 Z" fill="#b0643a"/></svg>
<div class="lb" style="left:163px;top:23.2px;font-size:20px;letter-spacing:1.0px;font-feature-settings:'palt';">クラウドアプリ開発</div>
<div class="lb" style="left:69.2px;top:128.2px;font-size:20px;letter-spacing:1.114px;font-feature-settings:'palt';">ビッグデータ解析</div>
<div class="lb" style="left:79.1px;top:156.0px;font-size:20px;letter-spacing:0.5px;font-feature-settings:'palt';">予測モデル構築</div>
<div class="lb" style="left:714.25px;top:34.0px;font-size:20px;letter-spacing:0.5px;font-feature-settings:'palt';">深層学習モデル開発</div>
<div class="lb" style="left:779px;top:137.5px;font-size:20px;letter-spacing:0.733px;font-feature-settings:'palt';">画像検査</div>
<div class="lb" style="left:745px;top:165.6px;font-size:20px;letter-spacing:0.257px;font-feature-settings:'palt';">アルゴリズム開発</div>
<div class="lb" style="left:381.75px;top:250.1px;font-size:20px;letter-spacing:0.312px;font-feature-settings:'palt';">イメージセンシング</div>
<div class="lb" style="left:190.6px;top:291.9px;font-size:22px;letter-spacing:-1.5px;">IoT</div>
<div class="cap" style="left:118.6px;top:469.1px">工程全体の最適化から、部分的な技術開発のお手伝いまで、</div>
<div class="cap" style="left:214.8px;top:505.3px;letter-spacing:2.44px">お客様のご要望に応じたご提案を致します。</div>
</div>
</body>
</html>
